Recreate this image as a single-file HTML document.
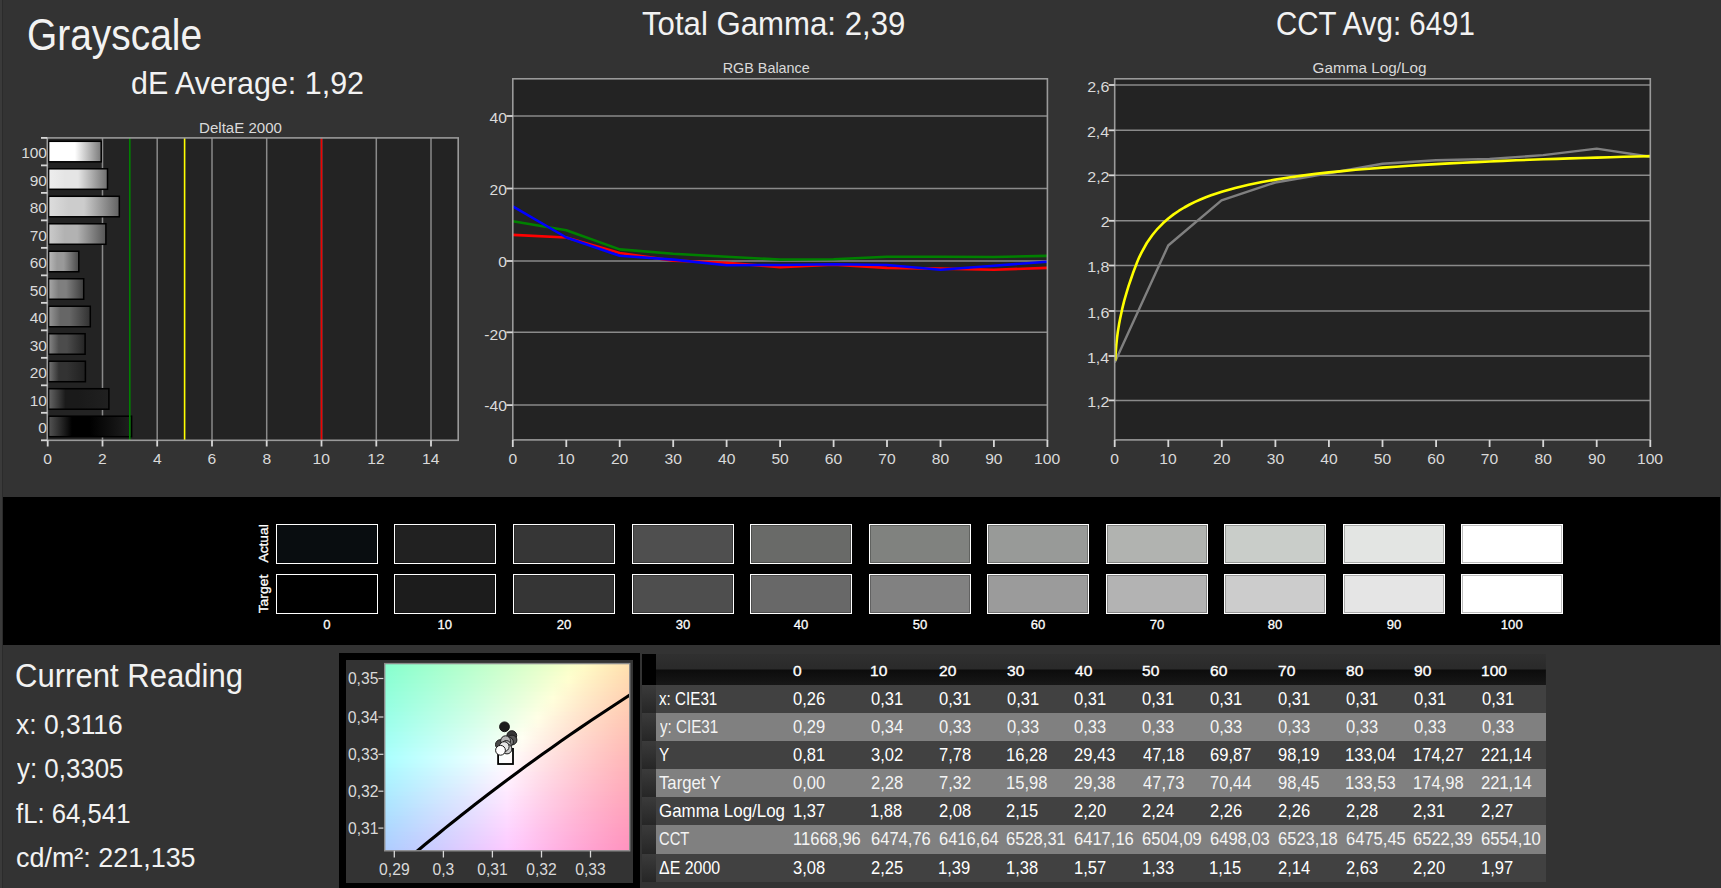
<!DOCTYPE html>
<html lang="en">
<head>
<meta charset="utf-8">
<title>Grayscale</title>
<style>
html,body{margin:0;padding:0;}
body{width:1721px;height:888px;overflow:hidden;background:#333333;position:relative;font-family:'Liberation Sans',sans-serif;color:#f2f2f2;}
svg{position:absolute;left:0;top:0;overflow:visible;}
svg text{font-family:'Liberation Sans',sans-serif;}
.edge{position:absolute;left:0;top:0;width:2px;height:888px;background:#3a3a3a;border-right:1px solid #2b2b2b;}
.h{position:absolute;white-space:nowrap;line-height:1;margin:0;font-weight:400;transform-origin:0 0;}
.band{position:absolute;left:2.5px;top:496.6px;width:1717px;height:148.4px;background:#000;}
.ciebox{position:absolute;left:339px;top:653px;width:301px;height:236px;background:#000;}
.cieinner{position:absolute;left:346px;top:660px;width:287px;height:222.5px;background:#333333;}
table.data{position:absolute;left:642px;top:654px;border-collapse:collapse;table-layout:fixed;width:904px;font-size:17.9px;color:#fff;}
table.data td,table.data th{padding:0;margin:0;text-align:left;font-weight:400;white-space:nowrap;overflow:visible;line-height:1;vertical-align:top;}
table.data tr{height:28px;}
table.data tr.hd{height:31px;background:linear-gradient(#303030 0%,#2a2a2a 49%,#0c0c0c 51%,#171717 100%);}
table.data tr.hd th{font-size:14.8px;-webkit-text-stroke:0.35px #fff;}
table.data tr.hd th.rh{background:#000;}
table.data tr.d{background:#414141;}
table.data tr.l{background:#808080;color:#f4f4f4;}
table.data td.rh{background:linear-gradient(#3b3b3b,#262626);}
table.data span{display:inline-block;transform-origin:0 0;position:relative;}
</style>
</head>
<body>
<div class="edge"></div>
<h1 class="h" style="left:26.56px;top:14.09px;font-size:43.60px;transform:scaleX(0.8919);color:#f2f2f2">Grayscale</h1>
<h2 class="h" style="left:130.78px;top:66.63px;font-size:31.98px;transform:scaleX(0.9522);color:#f2f2f2">dE Average: 1,92</h2>
<h2 class="h" style="left:641.68px;top:7.47px;font-size:32.99px;transform:scaleX(0.9451);color:#f2f2f2">Total Gamma: 2,39</h2>
<h2 class="h" style="left:1276.43px;top:7.47px;font-size:32.99px;transform:scaleX(0.8938);color:#f2f2f2">CCT Avg: 6491</h2>
<h2 class="h" style="left:15.45px;top:659.56px;font-size:32.41px;transform:scaleX(0.9587);color:#f2f2f2">Current Reading</h2>
<div class="h" style="left:16.24px;top:711.84px;font-size:26.89px;transform:scaleX(0.9833);color:#f2f2f2">x: 0,3116</div>
<div class="h" style="left:16.50px;top:755.84px;font-size:26.89px;transform:scaleX(0.9628);color:#f2f2f2">y: 0,3305</div>
<div class="h" style="left:16.44px;top:800.84px;font-size:26.89px;transform:scaleX(0.9573);color:#f2f2f2">fL: 64,541</div>
<div class="h" style="left:15.62px;top:844.84px;font-size:26.89px;transform:scaleX(1.0017);color:#f2f2f2">cd/m²: 221,135</div>
<svg width="1721" height="888" viewBox="0 0 1721 888">
<g id="deltae">
<rect x="47.3" y="137.9" width="410.9" height="302.4" fill="#232323"/>
<line x1="102.5" y1="137.9" x2="102.5" y2="440.3" stroke="#8a8a8a" stroke-width="1.5"/>
<line x1="157.2" y1="137.9" x2="157.2" y2="440.3" stroke="#8a8a8a" stroke-width="1.5"/>
<line x1="212.0" y1="137.9" x2="212.0" y2="440.3" stroke="#8a8a8a" stroke-width="1.5"/>
<line x1="266.7" y1="137.9" x2="266.7" y2="440.3" stroke="#8a8a8a" stroke-width="1.5"/>
<line x1="321.5" y1="137.9" x2="321.5" y2="440.3" stroke="#8a8a8a" stroke-width="1.5"/>
<line x1="376.3" y1="137.9" x2="376.3" y2="440.3" stroke="#8a8a8a" stroke-width="1.5"/>
<line x1="431.0" y1="137.9" x2="431.0" y2="440.3" stroke="#8a8a8a" stroke-width="1.5"/>
<defs>
<linearGradient id="b100"><stop offset="0" stop-color="#ffffff"/><stop offset="0.28" stop-color="#ffffff"/><stop offset="0.5" stop-color="#ffffff"/><stop offset="1" stop-color="#7a7a7a"/></linearGradient>
<linearGradient id="b90"><stop offset="0" stop-color="#eeeeee"/><stop offset="0.28" stop-color="#e5e5e5"/><stop offset="0.5" stop-color="#e5e5e5"/><stop offset="1" stop-color="#6e6e6e"/></linearGradient>
<linearGradient id="b80"><stop offset="0" stop-color="#dddddd"/><stop offset="0.28" stop-color="#cccccc"/><stop offset="0.5" stop-color="#cccccc"/><stop offset="1" stop-color="#626262"/></linearGradient>
<linearGradient id="b70"><stop offset="0" stop-color="#cbcbcb"/><stop offset="0.28" stop-color="#b2b2b2"/><stop offset="0.5" stop-color="#b2b2b2"/><stop offset="1" stop-color="#555555"/></linearGradient>
<linearGradient id="b60"><stop offset="0" stop-color="#bbbbbb"/><stop offset="0.28" stop-color="#999999"/><stop offset="0.5" stop-color="#999999"/><stop offset="1" stop-color="#494949"/></linearGradient>
<linearGradient id="b50"><stop offset="0" stop-color="#a9a9a9"/><stop offset="0.28" stop-color="#7f7f7f"/><stop offset="0.5" stop-color="#7f7f7f"/><stop offset="1" stop-color="#3d3d3d"/></linearGradient>
<linearGradient id="b40"><stop offset="0" stop-color="#989898"/><stop offset="0.28" stop-color="#666666"/><stop offset="0.5" stop-color="#666666"/><stop offset="1" stop-color="#313131"/></linearGradient>
<linearGradient id="b30"><stop offset="0" stop-color="#878787"/><stop offset="0.28" stop-color="#4c4c4c"/><stop offset="0.5" stop-color="#4c4c4c"/><stop offset="1" stop-color="#242424"/></linearGradient>
<linearGradient id="b20"><stop offset="0" stop-color="#767676"/><stop offset="0.28" stop-color="#333333"/><stop offset="0.5" stop-color="#333333"/><stop offset="1" stop-color="#202020"/></linearGradient>
<linearGradient id="b10"><stop offset="0" stop-color="#666666"/><stop offset="0.28" stop-color="#1a1a1a"/><stop offset="0.5" stop-color="#1a1a1a"/><stop offset="1" stop-color="#202020"/></linearGradient>
<linearGradient id="b0"><stop offset="0" stop-color="#545454"/><stop offset="0.28" stop-color="#000000"/><stop offset="0.5" stop-color="#000000"/><stop offset="1" stop-color="#202020"/></linearGradient>
</defs>
<rect x="48.6" y="141.30" width="52.6" height="20.5" fill="url(#b100)" stroke="#000" stroke-width="1.5"/>
<rect x="48.6" y="168.79" width="58.9" height="20.5" fill="url(#b90)" stroke="#000" stroke-width="1.5"/>
<rect x="48.6" y="196.28" width="70.7" height="20.5" fill="url(#b80)" stroke="#000" stroke-width="1.5"/>
<rect x="48.6" y="223.77" width="57.3" height="20.5" fill="url(#b70)" stroke="#000" stroke-width="1.5"/>
<rect x="48.6" y="251.26" width="30.2" height="20.5" fill="url(#b60)" stroke="#000" stroke-width="1.5"/>
<rect x="48.6" y="278.75" width="35.1" height="20.5" fill="url(#b50)" stroke="#000" stroke-width="1.5"/>
<rect x="48.6" y="306.25" width="41.7" height="20.5" fill="url(#b40)" stroke="#000" stroke-width="1.5"/>
<rect x="48.6" y="333.74" width="36.5" height="20.5" fill="url(#b30)" stroke="#000" stroke-width="1.5"/>
<rect x="48.6" y="361.23" width="36.8" height="20.5" fill="url(#b20)" stroke="#000" stroke-width="1.5"/>
<rect x="48.6" y="388.72" width="60.3" height="20.5" fill="url(#b10)" stroke="#000" stroke-width="1.5"/>
<rect x="48.6" y="416.21" width="83.0" height="20.5" fill="url(#b0)" stroke="#000" stroke-width="1.5"/>
<line x1="129.8" y1="137.9" x2="129.8" y2="440.3" stroke="#008000" stroke-width="1.6"/>
<line x1="184.6" y1="137.9" x2="184.6" y2="440.3" stroke="#ffff00" stroke-width="1.6"/>
<line x1="321.5" y1="137.9" x2="321.5" y2="440.3" stroke="#f00000" stroke-width="1.6"/>
<rect x="47.3" y="137.9" width="410.9" height="302.4" fill="none" stroke="#9a9a9a" stroke-width="1.6"/>
<line x1="41" y1="137.90" x2="47.3" y2="137.90" stroke="#d8d8d8" stroke-width="1.8"/>
<line x1="41" y1="165.39" x2="47.3" y2="165.39" stroke="#d8d8d8" stroke-width="1.8"/>
<line x1="41" y1="192.88" x2="47.3" y2="192.88" stroke="#d8d8d8" stroke-width="1.8"/>
<line x1="41" y1="220.37" x2="47.3" y2="220.37" stroke="#d8d8d8" stroke-width="1.8"/>
<line x1="41" y1="247.86" x2="47.3" y2="247.86" stroke="#d8d8d8" stroke-width="1.8"/>
<line x1="41" y1="275.35" x2="47.3" y2="275.35" stroke="#d8d8d8" stroke-width="1.8"/>
<line x1="41" y1="302.85" x2="47.3" y2="302.85" stroke="#d8d8d8" stroke-width="1.8"/>
<line x1="41" y1="330.34" x2="47.3" y2="330.34" stroke="#d8d8d8" stroke-width="1.8"/>
<line x1="41" y1="357.83" x2="47.3" y2="357.83" stroke="#d8d8d8" stroke-width="1.8"/>
<line x1="41" y1="385.32" x2="47.3" y2="385.32" stroke="#d8d8d8" stroke-width="1.8"/>
<line x1="41" y1="412.81" x2="47.3" y2="412.81" stroke="#d8d8d8" stroke-width="1.8"/>
<line x1="41" y1="440.30" x2="47.3" y2="440.30" stroke="#d8d8d8" stroke-width="1.8"/>
<line x1="47.7" y1="440.3" x2="47.7" y2="446.5" stroke="#d8d8d8" stroke-width="1.8"/>
<text transform="translate(43.36,463.80) scale(1.0450,1)" font-size="14.97" fill="#dadada">0</text>
<line x1="102.5" y1="440.3" x2="102.5" y2="446.5" stroke="#d8d8d8" stroke-width="1.8"/>
<text transform="translate(98.08,463.80) scale(1.0450,1)" font-size="14.97" fill="#dadada">2</text>
<line x1="157.2" y1="440.3" x2="157.2" y2="446.5" stroke="#d8d8d8" stroke-width="1.8"/>
<text transform="translate(152.92,463.80) scale(1.0450,1)" font-size="14.97" fill="#dadada">4</text>
<line x1="212.0" y1="440.3" x2="212.0" y2="446.5" stroke="#d8d8d8" stroke-width="1.8"/>
<text transform="translate(207.56,463.80) scale(1.0450,1)" font-size="14.97" fill="#dadada">6</text>
<line x1="266.7" y1="440.3" x2="266.7" y2="446.5" stroke="#d8d8d8" stroke-width="1.8"/>
<text transform="translate(262.40,463.80) scale(1.0450,1)" font-size="14.97" fill="#dadada">8</text>
<line x1="321.5" y1="440.3" x2="321.5" y2="446.5" stroke="#d8d8d8" stroke-width="1.8"/>
<text transform="translate(312.50,463.80) scale(1.0450,1)" font-size="14.97" fill="#dadada">10</text>
<line x1="376.3" y1="440.3" x2="376.3" y2="446.5" stroke="#d8d8d8" stroke-width="1.8"/>
<text transform="translate(367.34,463.80) scale(1.0450,1)" font-size="14.97" fill="#dadada">12</text>
<line x1="431.0" y1="440.3" x2="431.0" y2="446.5" stroke="#d8d8d8" stroke-width="1.8"/>
<text transform="translate(421.95,463.80) scale(1.0450,1)" font-size="14.97" fill="#dadada">14</text>
<text transform="translate(21.14,158.45) scale(1.0350,1)" font-size="14.97" fill="#dadada">100</text>
<text transform="translate(29.74,185.94) scale(1.0350,1)" font-size="14.97" fill="#dadada">90</text>
<text transform="translate(29.74,213.43) scale(1.0350,1)" font-size="14.97" fill="#dadada">80</text>
<text transform="translate(29.74,240.92) scale(1.0350,1)" font-size="14.97" fill="#dadada">70</text>
<text transform="translate(29.74,268.41) scale(1.0350,1)" font-size="14.97" fill="#dadada">60</text>
<text transform="translate(29.74,295.90) scale(1.0350,1)" font-size="14.97" fill="#dadada">50</text>
<text transform="translate(29.74,323.39) scale(1.0350,1)" font-size="14.97" fill="#dadada">40</text>
<text transform="translate(29.74,350.88) scale(1.0350,1)" font-size="14.97" fill="#dadada">30</text>
<text transform="translate(29.74,378.37) scale(1.0350,1)" font-size="14.97" fill="#dadada">20</text>
<text transform="translate(29.74,405.86) scale(1.0350,1)" font-size="14.97" fill="#dadada">10</text>
<text transform="translate(38.34,433.35) scale(1.0350,1)" font-size="14.97" fill="#dadada">0</text>
<text transform="translate(199.09,132.70) scale(1.0063,1)" font-size="14.97" fill="#dadada">DeltaE 2000</text>
</g>
<g id="rgb">
<rect x="512.8" y="78.8" width="534.6" height="361.1" fill="#232323"/>
<line x1="512.8" y1="116.0" x2="1047.4" y2="116.0" stroke="#8a8a8a" stroke-width="1.5"/>
<line x1="512.8" y1="188.5" x2="1047.4" y2="188.5" stroke="#8a8a8a" stroke-width="1.5"/>
<line x1="512.8" y1="261.0" x2="1047.4" y2="261.0" stroke="#8a8a8a" stroke-width="1.5"/>
<line x1="512.8" y1="332.3" x2="1047.4" y2="332.3" stroke="#8a8a8a" stroke-width="1.5"/>
<line x1="512.8" y1="405.1" x2="1047.4" y2="405.1" stroke="#8a8a8a" stroke-width="1.5"/>
<clipPath id="crgb"><rect x="512.8" y="78.8" width="534.6" height="361.1"/></clipPath>
<polyline points="512.8,234.9 566.3,237.5 619.7,253.0 673.2,260.6 726.6,262.8 780.1,267.2 833.6,264.6 887.0,267.9 940.5,268.6 993.9,269.7 1047.4,267.9" fill="none" stroke="#ff0000" stroke-width="2.6" stroke-linejoin="round" clip-path="url(#crgb)"/>
<polyline points="512.8,221.2 566.3,230.2 619.7,249.4 673.2,253.8 726.6,256.7 780.1,259.6 833.6,259.2 887.0,256.7 940.5,256.7 993.9,257.0 1047.4,255.9" fill="none" stroke="#008000" stroke-width="2.6" stroke-linejoin="round" clip-path="url(#crgb)"/>
<polyline points="512.8,206.3 566.3,237.5 619.7,255.8 673.2,259.6 726.6,265.2 780.1,265.0 833.6,264.3 887.0,265.0 940.5,269.7 993.9,265.7 1047.4,261.7" fill="none" stroke="#0000ff" stroke-width="2.6" stroke-linejoin="round" clip-path="url(#crgb)"/>
<rect x="512.8" y="78.8" width="534.6" height="361.1" fill="none" stroke="#9a9a9a" stroke-width="1.6"/>
<line x1="506.3" y1="116.0" x2="512.8" y2="116.0" stroke="#d8d8d8" stroke-width="1.8"/>
<text transform="translate(489.58,122.70) scale(1.0450,1)" font-size="14.97" fill="#dadada">40</text>
<line x1="506.3" y1="188.5" x2="512.8" y2="188.5" stroke="#d8d8d8" stroke-width="1.8"/>
<text transform="translate(489.58,195.00) scale(1.0450,1)" font-size="14.97" fill="#dadada">20</text>
<line x1="506.3" y1="261.0" x2="512.8" y2="261.0" stroke="#d8d8d8" stroke-width="1.8"/>
<text transform="translate(498.26,267.40) scale(1.0450,1)" font-size="14.97" fill="#dadada">0</text>
<line x1="506.3" y1="332.3" x2="512.8" y2="332.3" stroke="#d8d8d8" stroke-width="1.8"/>
<text transform="translate(484.34,340.10) scale(1.0450,1)" font-size="14.97" fill="#dadada">-20</text>
<line x1="506.3" y1="405.1" x2="512.8" y2="405.1" stroke="#d8d8d8" stroke-width="1.8"/>
<text transform="translate(484.34,410.60) scale(1.0450,1)" font-size="14.97" fill="#dadada">-40</text>
<line x1="512.8" y1="439.9" x2="512.8" y2="447" stroke="#d8d8d8" stroke-width="1.8"/>
<text transform="translate(508.46,463.80) scale(1.0450,1)" font-size="14.97" fill="#dadada">0</text>
<line x1="566.3" y1="439.9" x2="566.3" y2="447" stroke="#d8d8d8" stroke-width="1.8"/>
<text transform="translate(557.26,463.80) scale(1.0450,1)" font-size="14.97" fill="#dadada">10</text>
<line x1="619.7" y1="439.9" x2="619.7" y2="447" stroke="#d8d8d8" stroke-width="1.8"/>
<text transform="translate(610.92,463.80) scale(1.0450,1)" font-size="14.97" fill="#dadada">20</text>
<line x1="673.2" y1="439.9" x2="673.2" y2="447" stroke="#d8d8d8" stroke-width="1.8"/>
<text transform="translate(664.50,463.80) scale(1.0450,1)" font-size="14.97" fill="#dadada">30</text>
<line x1="726.6" y1="439.9" x2="726.6" y2="447" stroke="#d8d8d8" stroke-width="1.8"/>
<text transform="translate(718.07,463.80) scale(1.0450,1)" font-size="14.97" fill="#dadada">40</text>
<line x1="780.1" y1="439.9" x2="780.1" y2="447" stroke="#d8d8d8" stroke-width="1.8"/>
<text transform="translate(771.38,463.80) scale(1.0450,1)" font-size="14.97" fill="#dadada">50</text>
<line x1="833.6" y1="439.9" x2="833.6" y2="447" stroke="#d8d8d8" stroke-width="1.8"/>
<text transform="translate(824.76,463.80) scale(1.0450,1)" font-size="14.97" fill="#dadada">60</text>
<line x1="887.0" y1="439.9" x2="887.0" y2="447" stroke="#d8d8d8" stroke-width="1.8"/>
<text transform="translate(878.22,463.80) scale(1.0450,1)" font-size="14.97" fill="#dadada">70</text>
<line x1="940.5" y1="439.9" x2="940.5" y2="447" stroke="#d8d8d8" stroke-width="1.8"/>
<text transform="translate(931.76,463.80) scale(1.0450,1)" font-size="14.97" fill="#dadada">80</text>
<line x1="993.9" y1="439.9" x2="993.9" y2="447" stroke="#d8d8d8" stroke-width="1.8"/>
<text transform="translate(985.18,463.80) scale(1.0450,1)" font-size="14.97" fill="#dadada">90</text>
<line x1="1047.4" y1="439.9" x2="1047.4" y2="447" stroke="#d8d8d8" stroke-width="1.8"/>
<text transform="translate(1034.06,463.80) scale(1.0450,1)" font-size="14.97" fill="#dadada">100</text>
<text transform="translate(722.75,72.70) scale(0.9603,1)" font-size="14.97" fill="#dadada">RGB Balance</text>
</g>
<g id="gamma">
<rect x="1114.7" y="78.8" width="535.6" height="361.1" fill="#232323"/>
<line x1="1114.7" y1="85.0" x2="1650.3" y2="85.0" stroke="#8a8a8a" stroke-width="1.5"/>
<line x1="1114.7" y1="130.3" x2="1650.3" y2="130.3" stroke="#8a8a8a" stroke-width="1.5"/>
<line x1="1114.7" y1="175.3" x2="1650.3" y2="175.3" stroke="#8a8a8a" stroke-width="1.5"/>
<line x1="1114.7" y1="220.8" x2="1650.3" y2="220.8" stroke="#8a8a8a" stroke-width="1.5"/>
<line x1="1114.7" y1="265.5" x2="1650.3" y2="265.5" stroke="#8a8a8a" stroke-width="1.5"/>
<line x1="1114.7" y1="311.0" x2="1650.3" y2="311.0" stroke="#8a8a8a" stroke-width="1.5"/>
<line x1="1114.7" y1="356.0" x2="1650.3" y2="356.0" stroke="#8a8a8a" stroke-width="1.5"/>
<line x1="1114.7" y1="400.4" x2="1650.3" y2="400.4" stroke="#8a8a8a" stroke-width="1.5"/>
<clipPath id="cgam"><rect x="1113.7" y="78.8" width="537.6" height="361.1"/></clipPath>
<polyline points="1114.7,362.5 1168.2,245.5 1221.5,200.3 1275.3,182.5 1328.9,173.3 1382.5,163.7 1436.0,160.2 1489.6,159.0 1543.2,155.1 1596.7,148.6 1650.3,156.7" fill="none" stroke="#808080" stroke-width="2.4" stroke-linejoin="round" clip-path="url(#cgam)"/>
<polyline points="1115.2,360.7 1115.8,351.4 1116.3,344.9 1117.1,337.4 1117.9,331.4 1119.0,324.6 1120.1,318.8 1122.2,308.9 1124.3,300.4 1126.5,292.9 1128.6,285.9 1130.8,279.5 1132.9,273.3 1135.1,267.5 1137.2,262.0 1139.3,257.1 1141.5,252.6 1146.8,243.0 1152.2,235.3 1157.5,228.8 1162.9,223.3 1168.3,218.5 1173.6,214.4 1179.0,210.7 1184.3,207.5 1189.7,204.5 1195.0,201.9 1200.4,199.5 1205.8,197.3 1211.1,195.3 1216.5,193.4 1221.8,191.7 1235.2,187.9 1248.6,184.7 1262.0,182.0 1275.4,179.6 1288.8,177.5 1302.2,175.6 1315.6,173.9 1328.9,172.4 1342.3,171.1 1355.7,169.8 1369.1,168.7 1382.5,167.6 1395.9,166.7 1409.3,165.8 1422.7,164.9 1436.1,164.1 1449.5,163.4 1462.8,162.7 1476.2,162.1 1489.6,161.5 1503.0,160.9 1516.4,160.3 1529.8,159.8 1543.2,159.3 1556.6,158.9 1570.0,158.4 1583.4,158.0 1596.7,157.6 1610.1,157.2 1623.5,156.8 1636.9,156.5 1650.2,156.1" fill="none" stroke="#ffff00" stroke-width="2.6" stroke-linejoin="round" clip-path="url(#cgam)"/>
<rect x="1114.7" y="78.8" width="535.6" height="361.1" fill="none" stroke="#9a9a9a" stroke-width="1.6"/>
<line x1="1108.6" y1="85.0" x2="1114.7" y2="85.0" stroke="#d8d8d8" stroke-width="1.8"/>
<text transform="translate(1087.17,91.60) scale(1.0700,1)" font-size="14.97" fill="#dadada">2,6</text>
<line x1="1108.6" y1="130.3" x2="1114.7" y2="130.3" stroke="#d8d8d8" stroke-width="1.8"/>
<text transform="translate(1086.93,136.90) scale(1.0700,1)" font-size="14.97" fill="#dadada">2,4</text>
<line x1="1108.6" y1="175.3" x2="1114.7" y2="175.3" stroke="#d8d8d8" stroke-width="1.8"/>
<text transform="translate(1087.25,181.90) scale(1.0700,1)" font-size="14.97" fill="#dadada">2,2</text>
<line x1="1108.6" y1="220.8" x2="1114.7" y2="220.8" stroke="#d8d8d8" stroke-width="1.8"/>
<text transform="translate(1100.63,227.40) scale(1.0700,1)" font-size="14.97" fill="#dadada">2</text>
<line x1="1108.6" y1="265.5" x2="1114.7" y2="265.5" stroke="#d8d8d8" stroke-width="1.8"/>
<text transform="translate(1087.17,272.10) scale(1.0700,1)" font-size="14.97" fill="#dadada">1,8</text>
<line x1="1108.6" y1="311.0" x2="1114.7" y2="311.0" stroke="#d8d8d8" stroke-width="1.8"/>
<text transform="translate(1087.17,317.60) scale(1.0700,1)" font-size="14.97" fill="#dadada">1,6</text>
<line x1="1108.6" y1="356.0" x2="1114.7" y2="356.0" stroke="#d8d8d8" stroke-width="1.8"/>
<text transform="translate(1086.93,362.60) scale(1.0700,1)" font-size="14.97" fill="#dadada">1,4</text>
<line x1="1108.6" y1="400.4" x2="1114.7" y2="400.4" stroke="#d8d8d8" stroke-width="1.8"/>
<text transform="translate(1087.25,407.00) scale(1.0700,1)" font-size="14.97" fill="#dadada">1,2</text>
<line x1="1114.7" y1="439.9" x2="1114.7" y2="447" stroke="#d8d8d8" stroke-width="1.8"/>
<text transform="translate(1110.36,463.80) scale(1.0450,1)" font-size="14.97" fill="#dadada">0</text>
<line x1="1168.3" y1="439.9" x2="1168.3" y2="447" stroke="#d8d8d8" stroke-width="1.8"/>
<text transform="translate(1159.26,463.80) scale(1.0450,1)" font-size="14.97" fill="#dadada">10</text>
<line x1="1221.8" y1="439.9" x2="1221.8" y2="447" stroke="#d8d8d8" stroke-width="1.8"/>
<text transform="translate(1213.02,463.80) scale(1.0450,1)" font-size="14.97" fill="#dadada">20</text>
<line x1="1275.4" y1="439.9" x2="1275.4" y2="447" stroke="#d8d8d8" stroke-width="1.8"/>
<text transform="translate(1266.70,463.80) scale(1.0450,1)" font-size="14.97" fill="#dadada">30</text>
<line x1="1328.9" y1="439.9" x2="1328.9" y2="447" stroke="#d8d8d8" stroke-width="1.8"/>
<text transform="translate(1320.37,463.80) scale(1.0450,1)" font-size="14.97" fill="#dadada">40</text>
<line x1="1382.5" y1="439.9" x2="1382.5" y2="447" stroke="#d8d8d8" stroke-width="1.8"/>
<text transform="translate(1373.78,463.80) scale(1.0450,1)" font-size="14.97" fill="#dadada">50</text>
<line x1="1436.1" y1="439.9" x2="1436.1" y2="447" stroke="#d8d8d8" stroke-width="1.8"/>
<text transform="translate(1427.26,463.80) scale(1.0450,1)" font-size="14.97" fill="#dadada">60</text>
<line x1="1489.6" y1="439.9" x2="1489.6" y2="447" stroke="#d8d8d8" stroke-width="1.8"/>
<text transform="translate(1480.82,463.80) scale(1.0450,1)" font-size="14.97" fill="#dadada">70</text>
<line x1="1543.2" y1="439.9" x2="1543.2" y2="447" stroke="#d8d8d8" stroke-width="1.8"/>
<text transform="translate(1534.46,463.80) scale(1.0450,1)" font-size="14.97" fill="#dadada">80</text>
<line x1="1596.7" y1="439.9" x2="1596.7" y2="447" stroke="#d8d8d8" stroke-width="1.8"/>
<text transform="translate(1587.98,463.80) scale(1.0450,1)" font-size="14.97" fill="#dadada">90</text>
<line x1="1650.3" y1="439.9" x2="1650.3" y2="447" stroke="#d8d8d8" stroke-width="1.8"/>
<text transform="translate(1636.96,463.80) scale(1.0450,1)" font-size="14.97" fill="#dadada">100</text>
<text transform="translate(1312.53,72.70) scale(1.0229,1)" font-size="14.97" fill="#dadada">Gamma Log/Log</text>
</g>
</svg>
<div class="band"></div>
<svg width="1721" height="888" viewBox="0 0 1721 888">
<rect x="276" y="524" width="102" height="40" fill="#fff"/><rect x="277" y="525" width="100" height="38" fill="#070a0c"/><rect x="278" y="526" width="98" height="36" fill="#090d10"/>
<rect x="276" y="574" width="102" height="40" fill="#fff"/><rect x="277" y="575" width="100" height="38" fill="#000000"/><rect x="278" y="576" width="98" height="36" fill="#000000"/>
<text transform="translate(323.37,628.90) scale(1.0000,1)" font-size="13.08" fill="#fff" stroke="#fff" stroke-width="0.3">0</text>
<rect x="394" y="524" width="102" height="40" fill="#fff"/><rect x="395" y="525" width="100" height="38" fill="#191919"/><rect x="396" y="526" width="98" height="36" fill="#212121"/>
<rect x="394" y="574" width="102" height="40" fill="#fff"/><rect x="395" y="575" width="100" height="38" fill="#151515"/><rect x="396" y="576" width="98" height="36" fill="#1c1c1c"/>
<text transform="translate(437.48,628.90) scale(1.0000,1)" font-size="13.08" fill="#fff" stroke="#fff" stroke-width="0.3">10</text>
<rect x="513" y="524" width="102" height="40" fill="#fff"/><rect x="514" y="525" width="100" height="38" fill="#282828"/><rect x="515" y="526" width="98" height="36" fill="#363636"/>
<rect x="513" y="574" width="102" height="40" fill="#fff"/><rect x="514" y="575" width="100" height="38" fill="#282828"/><rect x="515" y="576" width="98" height="36" fill="#353535"/>
<text transform="translate(556.64,628.90) scale(1.0000,1)" font-size="13.08" fill="#fff" stroke="#fff" stroke-width="0.3">20</text>
<rect x="632" y="524" width="102" height="40" fill="#fff"/><rect x="633" y="525" width="100" height="38" fill="#3b3b3b"/><rect x="634" y="526" width="98" height="36" fill="#4f4f4f"/>
<rect x="632" y="574" width="102" height="40" fill="#fff"/><rect x="633" y="575" width="100" height="38" fill="#3a3a3a"/><rect x="634" y="576" width="98" height="36" fill="#4e4e4e"/>
<text transform="translate(675.74,628.90) scale(1.0000,1)" font-size="13.08" fill="#fff" stroke="#fff" stroke-width="0.3">30</text>
<rect x="750" y="524" width="102" height="40" fill="#fff"/><rect x="751" y="525" width="100" height="38" fill="#4f504e"/><rect x="752" y="526" width="98" height="36" fill="#696a68"/>
<rect x="750" y="574" width="102" height="40" fill="#fff"/><rect x="751" y="575" width="100" height="38" fill="#4e4e4e"/><rect x="752" y="576" width="98" height="36" fill="#686868"/>
<text transform="translate(793.84,628.90) scale(1.0000,1)" font-size="13.08" fill="#fff" stroke="#fff" stroke-width="0.3">40</text>
<rect x="869" y="524" width="102" height="40" fill="#fff"/><rect x="870" y="525" width="100" height="38" fill="#60625f"/><rect x="871" y="526" width="98" height="36" fill="#80827f"/>
<rect x="869" y="574" width="102" height="40" fill="#fff"/><rect x="870" y="575" width="100" height="38" fill="#616161"/><rect x="871" y="576" width="98" height="36" fill="#818181"/>
<text transform="translate(912.71,628.90) scale(1.0000,1)" font-size="13.08" fill="#fff" stroke="#fff" stroke-width="0.3">50</text>
<rect x="987" y="524" width="102" height="40" fill="#fff"/><rect x="988" y="525" width="100" height="38" fill="#727472"/><rect x="989" y="526" width="98" height="36" fill="#989a98"/>
<rect x="987" y="574" width="102" height="40" fill="#fff"/><rect x="988" y="575" width="100" height="38" fill="#747474"/><rect x="989" y="576" width="98" height="36" fill="#9b9b9b"/>
<text transform="translate(1030.64,628.90) scale(1.0000,1)" font-size="13.08" fill="#fff" stroke="#fff" stroke-width="0.3">60</text>
<rect x="1106" y="524" width="102" height="40" fill="#fff"/><rect x="1107" y="525" width="100" height="38" fill="#858684"/><rect x="1108" y="526" width="98" height="36" fill="#b1b3b0"/>
<rect x="1106" y="574" width="102" height="40" fill="#fff"/><rect x="1107" y="575" width="100" height="38" fill="#868686"/><rect x="1108" y="576" width="98" height="36" fill="#b3b3b3"/>
<text transform="translate(1149.64,628.90) scale(1.0000,1)" font-size="13.08" fill="#fff" stroke="#fff" stroke-width="0.3">70</text>
<rect x="1224" y="524" width="102" height="40" fill="#fff"/><rect x="1225" y="525" width="100" height="38" fill="#979a97"/><rect x="1226" y="526" width="98" height="36" fill="#c9cdc9"/>
<rect x="1224" y="574" width="102" height="40" fill="#fff"/><rect x="1225" y="575" width="100" height="38" fill="#999999"/><rect x="1226" y="576" width="98" height="36" fill="#cccccc"/>
<text transform="translate(1267.71,628.90) scale(1.0000,1)" font-size="13.08" fill="#fff" stroke="#fff" stroke-width="0.3">80</text>
<rect x="1343" y="524" width="102" height="40" fill="#fff"/><rect x="1344" y="525" width="100" height="38" fill="#aaacaa"/><rect x="1345" y="526" width="98" height="36" fill="#e3e5e3"/>
<rect x="1343" y="574" width="102" height="40" fill="#fff"/><rect x="1344" y="575" width="100" height="38" fill="#acacac"/><rect x="1345" y="576" width="98" height="36" fill="#e5e5e5"/>
<text transform="translate(1386.67,628.90) scale(1.0000,1)" font-size="13.08" fill="#fff" stroke="#fff" stroke-width="0.3">90</text>
<rect x="1461" y="524" width="102" height="40" fill="#fff"/><rect x="1462" y="525" width="100" height="38" fill="#bfbfbf"/><rect x="1463" y="526" width="98" height="36" fill="#ffffff"/>
<rect x="1461" y="574" width="102" height="40" fill="#fff"/><rect x="1462" y="575" width="100" height="38" fill="#bfbfbf"/><rect x="1463" y="576" width="98" height="36" fill="#ffffff"/>
<text transform="translate(1500.85,628.90) scale(1.0000,1)" font-size="13.08" fill="#fff" stroke="#fff" stroke-width="0.3">100</text>
<text transform="translate(268.30,543.80) rotate(-90) translate(-18.70,0) scale(1.0191,1)" font-size="13.52" fill="#fff" stroke="#fff" stroke-width="0.3">Actual</text>
<text transform="translate(268.30,593.90) rotate(-90) translate(-19.43,0) scale(1.0284,1)" font-size="13.52" fill="#fff" stroke="#fff" stroke-width="0.3">Target</text>
</svg>
<div class="ciebox"></div><div class="cieinner"></div>
<svg width="1721" height="888" viewBox="0 0 1721 888">
<defs>
<linearGradient id="c0"><stop offset="0.0000" stop-color="#87ffce"/><stop offset="0.0625" stop-color="#8fffce"/><stop offset="0.1250" stop-color="#98ffcd"/><stop offset="0.1875" stop-color="#a1ffcd"/><stop offset="0.2500" stop-color="#aaffcc"/><stop offset="0.3125" stop-color="#b3ffcc"/><stop offset="0.3750" stop-color="#bcffcc"/><stop offset="0.4375" stop-color="#c6ffcb"/><stop offset="0.5000" stop-color="#cfffcb"/><stop offset="0.5625" stop-color="#d9ffca"/><stop offset="0.6250" stop-color="#e3ffca"/><stop offset="0.6875" stop-color="#edffc9"/><stop offset="0.7500" stop-color="#f8ffc9"/><stop offset="0.8125" stop-color="#fffcc6"/><stop offset="0.8750" stop-color="#fff2be"/><stop offset="0.9375" stop-color="#ffe9b6"/><stop offset="1.0000" stop-color="#ffe0af"/></linearGradient>
<linearGradient id="c1"><stop offset="0.0000" stop-color="#88ffd0"/><stop offset="0.0625" stop-color="#91ffcf"/><stop offset="0.1250" stop-color="#9affcf"/><stop offset="0.1875" stop-color="#a2ffcf"/><stop offset="0.2500" stop-color="#acffce"/><stop offset="0.3125" stop-color="#b5ffce"/><stop offset="0.3750" stop-color="#beffce"/><stop offset="0.4375" stop-color="#c8ffcd"/><stop offset="0.5000" stop-color="#d1ffcd"/><stop offset="0.5625" stop-color="#dbffcc"/><stop offset="0.6250" stop-color="#e5ffcc"/><stop offset="0.6875" stop-color="#efffcb"/><stop offset="0.7500" stop-color="#faffcb"/><stop offset="0.8125" stop-color="#fffac6"/><stop offset="0.8750" stop-color="#fff0be"/><stop offset="0.9375" stop-color="#ffe7b6"/><stop offset="1.0000" stop-color="#ffdeaf"/></linearGradient>
<linearGradient id="c2"><stop offset="0.0000" stop-color="#8affd2"/><stop offset="0.0625" stop-color="#92ffd1"/><stop offset="0.1250" stop-color="#9bffd1"/><stop offset="0.1875" stop-color="#a4ffd1"/><stop offset="0.2500" stop-color="#adffd0"/><stop offset="0.3125" stop-color="#b6ffd0"/><stop offset="0.3750" stop-color="#c0ffd0"/><stop offset="0.4375" stop-color="#c9ffcf"/><stop offset="0.5000" stop-color="#d3ffcf"/><stop offset="0.5625" stop-color="#ddffce"/><stop offset="0.6250" stop-color="#e7ffce"/><stop offset="0.6875" stop-color="#f1ffce"/><stop offset="0.7500" stop-color="#fcffcd"/><stop offset="0.8125" stop-color="#fff8c7"/><stop offset="0.8750" stop-color="#ffeebf"/><stop offset="0.9375" stop-color="#ffe5b7"/><stop offset="1.0000" stop-color="#ffdcaf"/></linearGradient>
<linearGradient id="c3"><stop offset="0.0000" stop-color="#8bffd4"/><stop offset="0.0625" stop-color="#94ffd3"/><stop offset="0.1250" stop-color="#9dffd3"/><stop offset="0.1875" stop-color="#a6ffd3"/><stop offset="0.2500" stop-color="#afffd2"/><stop offset="0.3125" stop-color="#b8ffd2"/><stop offset="0.3750" stop-color="#c2ffd2"/><stop offset="0.4375" stop-color="#cbffd1"/><stop offset="0.5000" stop-color="#d5ffd1"/><stop offset="0.5625" stop-color="#dfffd0"/><stop offset="0.6250" stop-color="#e9ffd0"/><stop offset="0.6875" stop-color="#f4ffd0"/><stop offset="0.7500" stop-color="#feffcf"/><stop offset="0.8125" stop-color="#fff6c7"/><stop offset="0.8750" stop-color="#ffecbf"/><stop offset="0.9375" stop-color="#ffe3b7"/><stop offset="1.0000" stop-color="#ffdab0"/></linearGradient>
<linearGradient id="c4"><stop offset="0.0000" stop-color="#8cffd6"/><stop offset="0.0625" stop-color="#95ffd5"/><stop offset="0.1250" stop-color="#9effd5"/><stop offset="0.1875" stop-color="#a7ffd5"/><stop offset="0.2500" stop-color="#b0ffd4"/><stop offset="0.3125" stop-color="#baffd4"/><stop offset="0.3750" stop-color="#c3ffd4"/><stop offset="0.4375" stop-color="#cdffd3"/><stop offset="0.5000" stop-color="#d7ffd3"/><stop offset="0.5625" stop-color="#e1ffd2"/><stop offset="0.6250" stop-color="#ebffd2"/><stop offset="0.6875" stop-color="#f6ffd2"/><stop offset="0.7500" stop-color="#fffed0"/><stop offset="0.8125" stop-color="#fff3c7"/><stop offset="0.8750" stop-color="#ffeabf"/><stop offset="0.9375" stop-color="#ffe1b7"/><stop offset="1.0000" stop-color="#ffd8b0"/></linearGradient>
<linearGradient id="c5"><stop offset="0.0000" stop-color="#8effd7"/><stop offset="0.0625" stop-color="#97ffd7"/><stop offset="0.1250" stop-color="#a0ffd7"/><stop offset="0.1875" stop-color="#a9ffd7"/><stop offset="0.2500" stop-color="#b2ffd6"/><stop offset="0.3125" stop-color="#bcffd6"/><stop offset="0.3750" stop-color="#c5ffd6"/><stop offset="0.4375" stop-color="#cfffd5"/><stop offset="0.5000" stop-color="#d9ffd5"/><stop offset="0.5625" stop-color="#e3ffd5"/><stop offset="0.6250" stop-color="#edffd4"/><stop offset="0.6875" stop-color="#f8ffd4"/><stop offset="0.7500" stop-color="#fffbd1"/><stop offset="0.8125" stop-color="#fff1c8"/><stop offset="0.8750" stop-color="#ffe8c0"/><stop offset="0.9375" stop-color="#ffdfb8"/><stop offset="1.0000" stop-color="#ffd6b1"/></linearGradient>
<linearGradient id="c6"><stop offset="0.0000" stop-color="#8fffd9"/><stop offset="0.0625" stop-color="#98ffd9"/><stop offset="0.1250" stop-color="#a1ffd9"/><stop offset="0.1875" stop-color="#aaffd9"/><stop offset="0.2500" stop-color="#b4ffd8"/><stop offset="0.3125" stop-color="#bdffd8"/><stop offset="0.3750" stop-color="#c7ffd8"/><stop offset="0.4375" stop-color="#d1ffd7"/><stop offset="0.5000" stop-color="#dbffd7"/><stop offset="0.5625" stop-color="#e5ffd7"/><stop offset="0.6250" stop-color="#efffd6"/><stop offset="0.6875" stop-color="#faffd6"/><stop offset="0.7500" stop-color="#fff9d1"/><stop offset="0.8125" stop-color="#ffefc8"/><stop offset="0.8750" stop-color="#ffe6c0"/><stop offset="0.9375" stop-color="#ffddb8"/><stop offset="1.0000" stop-color="#ffd5b1"/></linearGradient>
<linearGradient id="c7"><stop offset="0.0000" stop-color="#91ffdb"/><stop offset="0.0625" stop-color="#9affdb"/><stop offset="0.1250" stop-color="#a3ffdb"/><stop offset="0.1875" stop-color="#acffdb"/><stop offset="0.2500" stop-color="#b5ffda"/><stop offset="0.3125" stop-color="#bfffda"/><stop offset="0.3750" stop-color="#c9ffda"/><stop offset="0.4375" stop-color="#d3ffd9"/><stop offset="0.5000" stop-color="#ddffd9"/><stop offset="0.5625" stop-color="#e7ffd9"/><stop offset="0.6250" stop-color="#f2ffd9"/><stop offset="0.6875" stop-color="#fcffd8"/><stop offset="0.7500" stop-color="#fff7d1"/><stop offset="0.8125" stop-color="#ffedc8"/><stop offset="0.8750" stop-color="#ffe4c0"/><stop offset="0.9375" stop-color="#ffdbb9"/><stop offset="1.0000" stop-color="#ffd3b1"/></linearGradient>
<linearGradient id="c8"><stop offset="0.0000" stop-color="#92ffdd"/><stop offset="0.0625" stop-color="#9bffdd"/><stop offset="0.1250" stop-color="#a4ffdd"/><stop offset="0.1875" stop-color="#aeffdd"/><stop offset="0.2500" stop-color="#b7ffdc"/><stop offset="0.3125" stop-color="#c1ffdc"/><stop offset="0.3750" stop-color="#cbffdc"/><stop offset="0.4375" stop-color="#d5ffdc"/><stop offset="0.5000" stop-color="#dfffdb"/><stop offset="0.5625" stop-color="#e9ffdb"/><stop offset="0.6250" stop-color="#f4ffdb"/><stop offset="0.6875" stop-color="#ffffda"/><stop offset="0.7500" stop-color="#fff5d2"/><stop offset="0.8125" stop-color="#ffebc9"/><stop offset="0.8750" stop-color="#ffe2c1"/><stop offset="0.9375" stop-color="#ffd9b9"/><stop offset="1.0000" stop-color="#ffd1b2"/></linearGradient>
<linearGradient id="c9"><stop offset="0.0000" stop-color="#94ffe0"/><stop offset="0.0625" stop-color="#9dffdf"/><stop offset="0.1250" stop-color="#a6ffdf"/><stop offset="0.1875" stop-color="#afffdf"/><stop offset="0.2500" stop-color="#b9ffdf"/><stop offset="0.3125" stop-color="#c3ffde"/><stop offset="0.3750" stop-color="#cdffde"/><stop offset="0.4375" stop-color="#d7ffde"/><stop offset="0.5000" stop-color="#e1ffdd"/><stop offset="0.5625" stop-color="#ebffdd"/><stop offset="0.6250" stop-color="#f6ffdd"/><stop offset="0.6875" stop-color="#fffddb"/><stop offset="0.7500" stop-color="#fff3d2"/><stop offset="0.8125" stop-color="#ffe9c9"/><stop offset="0.8750" stop-color="#ffe0c1"/><stop offset="0.9375" stop-color="#ffd7b9"/><stop offset="1.0000" stop-color="#ffcfb2"/></linearGradient>
<linearGradient id="c10"><stop offset="0.0000" stop-color="#95ffe2"/><stop offset="0.0625" stop-color="#9effe1"/><stop offset="0.1250" stop-color="#a8ffe1"/><stop offset="0.1875" stop-color="#b1ffe1"/><stop offset="0.2500" stop-color="#bbffe1"/><stop offset="0.3125" stop-color="#c5ffe0"/><stop offset="0.3750" stop-color="#ceffe0"/><stop offset="0.4375" stop-color="#d9ffe0"/><stop offset="0.5000" stop-color="#e3ffe0"/><stop offset="0.5625" stop-color="#edffdf"/><stop offset="0.6250" stop-color="#f8ffdf"/><stop offset="0.6875" stop-color="#fffbdb"/><stop offset="0.7500" stop-color="#fff1d2"/><stop offset="0.8125" stop-color="#ffe7c9"/><stop offset="0.8750" stop-color="#ffdec1"/><stop offset="0.9375" stop-color="#ffd5ba"/><stop offset="1.0000" stop-color="#ffcdb2"/></linearGradient>
<linearGradient id="c11"><stop offset="0.0000" stop-color="#97ffe4"/><stop offset="0.0625" stop-color="#a0ffe3"/><stop offset="0.1250" stop-color="#a9ffe3"/><stop offset="0.1875" stop-color="#b3ffe3"/><stop offset="0.2500" stop-color="#bcffe3"/><stop offset="0.3125" stop-color="#c6ffe3"/><stop offset="0.3750" stop-color="#d0ffe2"/><stop offset="0.4375" stop-color="#dbffe2"/><stop offset="0.5000" stop-color="#e5ffe2"/><stop offset="0.5625" stop-color="#f0ffe2"/><stop offset="0.6250" stop-color="#faffe1"/><stop offset="0.6875" stop-color="#fff9dc"/><stop offset="0.7500" stop-color="#ffefd2"/><stop offset="0.8125" stop-color="#ffe5ca"/><stop offset="0.8750" stop-color="#ffdcc2"/><stop offset="0.9375" stop-color="#ffd4ba"/><stop offset="1.0000" stop-color="#ffccb3"/></linearGradient>
<linearGradient id="c12"><stop offset="0.0000" stop-color="#98ffe6"/><stop offset="0.0625" stop-color="#a1ffe6"/><stop offset="0.1250" stop-color="#abffe5"/><stop offset="0.1875" stop-color="#b5ffe5"/><stop offset="0.2500" stop-color="#beffe5"/><stop offset="0.3125" stop-color="#c8ffe5"/><stop offset="0.3750" stop-color="#d2ffe5"/><stop offset="0.4375" stop-color="#ddffe4"/><stop offset="0.5000" stop-color="#e7ffe4"/><stop offset="0.5625" stop-color="#f2ffe4"/><stop offset="0.6250" stop-color="#fdffe4"/><stop offset="0.6875" stop-color="#fff7dc"/><stop offset="0.7500" stop-color="#ffecd3"/><stop offset="0.8125" stop-color="#ffe3ca"/><stop offset="0.8750" stop-color="#ffdac2"/><stop offset="0.9375" stop-color="#ffd2ba"/><stop offset="1.0000" stop-color="#ffcab3"/></linearGradient>
<linearGradient id="c13"><stop offset="0.0000" stop-color="#9affe8"/><stop offset="0.0625" stop-color="#a3ffe8"/><stop offset="0.1250" stop-color="#adffe8"/><stop offset="0.1875" stop-color="#b6ffe7"/><stop offset="0.2500" stop-color="#c0ffe7"/><stop offset="0.3125" stop-color="#caffe7"/><stop offset="0.3750" stop-color="#d4ffe7"/><stop offset="0.4375" stop-color="#dfffe7"/><stop offset="0.5000" stop-color="#e9ffe6"/><stop offset="0.5625" stop-color="#f4ffe6"/><stop offset="0.6250" stop-color="#ffffe6"/><stop offset="0.6875" stop-color="#fff4dc"/><stop offset="0.7500" stop-color="#ffead3"/><stop offset="0.8125" stop-color="#ffe1ca"/><stop offset="0.8750" stop-color="#ffd8c2"/><stop offset="0.9375" stop-color="#ffd0bb"/><stop offset="1.0000" stop-color="#ffc8b3"/></linearGradient>
<linearGradient id="c14"><stop offset="0.0000" stop-color="#9bffea"/><stop offset="0.0625" stop-color="#a5ffea"/><stop offset="0.1250" stop-color="#aeffea"/><stop offset="0.1875" stop-color="#b8ffea"/><stop offset="0.2500" stop-color="#c2ffe9"/><stop offset="0.3125" stop-color="#ccffe9"/><stop offset="0.3750" stop-color="#d6ffe9"/><stop offset="0.4375" stop-color="#e1ffe9"/><stop offset="0.5000" stop-color="#ebffe9"/><stop offset="0.5625" stop-color="#f6ffe9"/><stop offset="0.6250" stop-color="#fffde6"/><stop offset="0.6875" stop-color="#fff2dd"/><stop offset="0.7500" stop-color="#ffe8d3"/><stop offset="0.8125" stop-color="#ffdfcb"/><stop offset="0.8750" stop-color="#ffd6c3"/><stop offset="0.9375" stop-color="#ffcebb"/><stop offset="1.0000" stop-color="#ffc6b4"/></linearGradient>
<linearGradient id="c15"><stop offset="0.0000" stop-color="#9dffec"/><stop offset="0.0625" stop-color="#a6ffec"/><stop offset="0.1250" stop-color="#b0ffec"/><stop offset="0.1875" stop-color="#baffec"/><stop offset="0.2500" stop-color="#c4ffec"/><stop offset="0.3125" stop-color="#ceffeb"/><stop offset="0.3750" stop-color="#d8ffeb"/><stop offset="0.4375" stop-color="#e3ffeb"/><stop offset="0.5000" stop-color="#eeffeb"/><stop offset="0.5625" stop-color="#f8ffeb"/><stop offset="0.6250" stop-color="#fffbe7"/><stop offset="0.6875" stop-color="#fff0dd"/><stop offset="0.7500" stop-color="#ffe6d4"/><stop offset="0.8125" stop-color="#ffddcb"/><stop offset="0.8750" stop-color="#ffd4c3"/><stop offset="0.9375" stop-color="#ffccbb"/><stop offset="1.0000" stop-color="#ffc5b4"/></linearGradient>
<linearGradient id="c16"><stop offset="0.0000" stop-color="#9fffee"/><stop offset="0.0625" stop-color="#a8ffee"/><stop offset="0.1250" stop-color="#b2ffee"/><stop offset="0.1875" stop-color="#bcffee"/><stop offset="0.2500" stop-color="#c6ffee"/><stop offset="0.3125" stop-color="#d0ffee"/><stop offset="0.3750" stop-color="#daffee"/><stop offset="0.4375" stop-color="#e5ffee"/><stop offset="0.5000" stop-color="#f0ffed"/><stop offset="0.5625" stop-color="#fbffed"/><stop offset="0.6250" stop-color="#fff8e7"/><stop offset="0.6875" stop-color="#ffeedd"/><stop offset="0.7500" stop-color="#ffe4d4"/><stop offset="0.8125" stop-color="#ffdbcb"/><stop offset="0.8750" stop-color="#ffd3c3"/><stop offset="0.9375" stop-color="#ffcabc"/><stop offset="1.0000" stop-color="#ffc3b4"/></linearGradient>
<linearGradient id="c17"><stop offset="0.0000" stop-color="#a0fff1"/><stop offset="0.0625" stop-color="#aafff1"/><stop offset="0.1250" stop-color="#b4fff0"/><stop offset="0.1875" stop-color="#bdfff0"/><stop offset="0.2500" stop-color="#c8fff0"/><stop offset="0.3125" stop-color="#d2fff0"/><stop offset="0.3750" stop-color="#dcfff0"/><stop offset="0.4375" stop-color="#e7fff0"/><stop offset="0.5000" stop-color="#f2fff0"/><stop offset="0.5625" stop-color="#fdfff0"/><stop offset="0.6250" stop-color="#fff6e7"/><stop offset="0.6875" stop-color="#ffecdd"/><stop offset="0.7500" stop-color="#ffe2d4"/><stop offset="0.8125" stop-color="#ffd9cc"/><stop offset="0.8750" stop-color="#ffd1c4"/><stop offset="0.9375" stop-color="#ffc9bc"/><stop offset="1.0000" stop-color="#ffc1b5"/></linearGradient>
<linearGradient id="c18"><stop offset="0.0000" stop-color="#a2fff3"/><stop offset="0.0625" stop-color="#abfff3"/><stop offset="0.1250" stop-color="#b5fff3"/><stop offset="0.1875" stop-color="#bffff3"/><stop offset="0.2500" stop-color="#c9fff3"/><stop offset="0.3125" stop-color="#d4fff2"/><stop offset="0.3750" stop-color="#defff2"/><stop offset="0.4375" stop-color="#e9fff2"/><stop offset="0.5000" stop-color="#f4fff2"/><stop offset="0.5625" stop-color="#fffff2"/><stop offset="0.6250" stop-color="#fff4e7"/><stop offset="0.6875" stop-color="#ffeade"/><stop offset="0.7500" stop-color="#ffe0d4"/><stop offset="0.8125" stop-color="#ffd7cc"/><stop offset="0.8750" stop-color="#ffcfc4"/><stop offset="0.9375" stop-color="#ffc7bc"/><stop offset="1.0000" stop-color="#ffbfb5"/></linearGradient>
<linearGradient id="c19"><stop offset="0.0000" stop-color="#a3fff5"/><stop offset="0.0625" stop-color="#adfff5"/><stop offset="0.1250" stop-color="#b7fff5"/><stop offset="0.1875" stop-color="#c1fff5"/><stop offset="0.2500" stop-color="#cbfff5"/><stop offset="0.3125" stop-color="#d6fff5"/><stop offset="0.3750" stop-color="#e1fff5"/><stop offset="0.4375" stop-color="#ebfff5"/><stop offset="0.5000" stop-color="#f6fff5"/><stop offset="0.5625" stop-color="#fffcf2"/><stop offset="0.6250" stop-color="#fff2e8"/><stop offset="0.6875" stop-color="#ffe8de"/><stop offset="0.7500" stop-color="#ffded5"/><stop offset="0.8125" stop-color="#ffd5cc"/><stop offset="0.8750" stop-color="#ffcdc4"/><stop offset="0.9375" stop-color="#ffc5bd"/><stop offset="1.0000" stop-color="#ffbeb5"/></linearGradient>
<linearGradient id="c20"><stop offset="0.0000" stop-color="#a5fff7"/><stop offset="0.0625" stop-color="#affff7"/><stop offset="0.1250" stop-color="#b9fff7"/><stop offset="0.1875" stop-color="#c3fff7"/><stop offset="0.2500" stop-color="#cdfff7"/><stop offset="0.3125" stop-color="#d8fff7"/><stop offset="0.3750" stop-color="#e3fff7"/><stop offset="0.4375" stop-color="#eefff7"/><stop offset="0.5000" stop-color="#f9fff7"/><stop offset="0.5625" stop-color="#fffaf2"/><stop offset="0.6250" stop-color="#ffefe8"/><stop offset="0.6875" stop-color="#ffe5de"/><stop offset="0.7500" stop-color="#ffdcd5"/><stop offset="0.8125" stop-color="#ffd3cd"/><stop offset="0.8750" stop-color="#ffcbc5"/><stop offset="0.9375" stop-color="#ffc3bd"/><stop offset="1.0000" stop-color="#ffbcb6"/></linearGradient>
<linearGradient id="c21"><stop offset="0.0000" stop-color="#a7fffa"/><stop offset="0.0625" stop-color="#b1fffa"/><stop offset="0.1250" stop-color="#bbfffa"/><stop offset="0.1875" stop-color="#c5fffa"/><stop offset="0.2500" stop-color="#cffffa"/><stop offset="0.3125" stop-color="#dafffa"/><stop offset="0.3750" stop-color="#e5fffa"/><stop offset="0.4375" stop-color="#f0fffa"/><stop offset="0.5000" stop-color="#fbfffa"/><stop offset="0.5625" stop-color="#fff8f2"/><stop offset="0.6250" stop-color="#ffede8"/><stop offset="0.6875" stop-color="#ffe3de"/><stop offset="0.7500" stop-color="#ffdad5"/><stop offset="0.8125" stop-color="#ffd1cd"/><stop offset="0.8750" stop-color="#ffc9c5"/><stop offset="0.9375" stop-color="#ffc2bd"/><stop offset="1.0000" stop-color="#ffbab6"/></linearGradient>
<linearGradient id="c22"><stop offset="0.0000" stop-color="#a9fffc"/><stop offset="0.0625" stop-color="#b2fffc"/><stop offset="0.1250" stop-color="#bdfffc"/><stop offset="0.1875" stop-color="#c7fffc"/><stop offset="0.2500" stop-color="#d1fffc"/><stop offset="0.3125" stop-color="#dcfffc"/><stop offset="0.3750" stop-color="#e7fffc"/><stop offset="0.4375" stop-color="#f2fffc"/><stop offset="0.5000" stop-color="#fdfffc"/><stop offset="0.5625" stop-color="#fff5f3"/><stop offset="0.6250" stop-color="#ffebe8"/><stop offset="0.6875" stop-color="#ffe1df"/><stop offset="0.7500" stop-color="#ffd8d6"/><stop offset="0.8125" stop-color="#ffd0cd"/><stop offset="0.8750" stop-color="#ffc7c5"/><stop offset="0.9375" stop-color="#ffc0be"/><stop offset="1.0000" stop-color="#ffb9b6"/></linearGradient>
<linearGradient id="c23"><stop offset="0.0000" stop-color="#aafffe"/><stop offset="0.0625" stop-color="#b4fffe"/><stop offset="0.1250" stop-color="#befffe"/><stop offset="0.1875" stop-color="#c9fffe"/><stop offset="0.2500" stop-color="#d3ffff"/><stop offset="0.3125" stop-color="#deffff"/><stop offset="0.3750" stop-color="#e9ffff"/><stop offset="0.4375" stop-color="#f4ffff"/><stop offset="0.5000" stop-color="#fffefe"/><stop offset="0.5625" stop-color="#fff3f3"/><stop offset="0.6250" stop-color="#ffe9e9"/><stop offset="0.6875" stop-color="#ffdfdf"/><stop offset="0.7500" stop-color="#ffd6d6"/><stop offset="0.8125" stop-color="#ffcecd"/><stop offset="0.8750" stop-color="#ffc6c5"/><stop offset="0.9375" stop-color="#ffbebe"/><stop offset="1.0000" stop-color="#ffb7b7"/></linearGradient>
<linearGradient id="c24"><stop offset="0.0000" stop-color="#abfdff"/><stop offset="0.0625" stop-color="#b5fdff"/><stop offset="0.1250" stop-color="#bffdff"/><stop offset="0.1875" stop-color="#c9fdff"/><stop offset="0.2500" stop-color="#d4fdff"/><stop offset="0.3125" stop-color="#dffdff"/><stop offset="0.3750" stop-color="#e9fdff"/><stop offset="0.4375" stop-color="#f5fdff"/><stop offset="0.5000" stop-color="#fffcfe"/><stop offset="0.5625" stop-color="#fff1f3"/><stop offset="0.6250" stop-color="#ffe7e9"/><stop offset="0.6875" stop-color="#ffdddf"/><stop offset="0.7500" stop-color="#ffd4d6"/><stop offset="0.8125" stop-color="#ffccce"/><stop offset="0.8750" stop-color="#ffc4c6"/><stop offset="0.9375" stop-color="#ffbcbe"/><stop offset="1.0000" stop-color="#ffb5b7"/></linearGradient>
<linearGradient id="c25"><stop offset="0.0000" stop-color="#abfbff"/><stop offset="0.0625" stop-color="#b5fbff"/><stop offset="0.1250" stop-color="#bffbff"/><stop offset="0.1875" stop-color="#c9fbff"/><stop offset="0.2500" stop-color="#d4fbff"/><stop offset="0.3125" stop-color="#defbff"/><stop offset="0.3750" stop-color="#e9faff"/><stop offset="0.4375" stop-color="#f4faff"/><stop offset="0.5000" stop-color="#fffafe"/><stop offset="0.5625" stop-color="#ffeff3"/><stop offset="0.6250" stop-color="#ffe5e9"/><stop offset="0.6875" stop-color="#ffdbdf"/><stop offset="0.7500" stop-color="#ffd2d6"/><stop offset="0.8125" stop-color="#ffcace"/><stop offset="0.8750" stop-color="#ffc2c6"/><stop offset="0.9375" stop-color="#ffbbbf"/><stop offset="1.0000" stop-color="#ffb4b7"/></linearGradient>
<linearGradient id="c26"><stop offset="0.0000" stop-color="#abf8ff"/><stop offset="0.0625" stop-color="#b5f8ff"/><stop offset="0.1250" stop-color="#bff8ff"/><stop offset="0.1875" stop-color="#c9f8ff"/><stop offset="0.2500" stop-color="#d4f8ff"/><stop offset="0.3125" stop-color="#def8ff"/><stop offset="0.3750" stop-color="#e9f8ff"/><stop offset="0.4375" stop-color="#f4f8ff"/><stop offset="0.5000" stop-color="#fff7fe"/><stop offset="0.5625" stop-color="#ffedf4"/><stop offset="0.6250" stop-color="#ffe3e9"/><stop offset="0.6875" stop-color="#ffd9e0"/><stop offset="0.7500" stop-color="#ffd0d7"/><stop offset="0.8125" stop-color="#ffc8ce"/><stop offset="0.8750" stop-color="#ffc0c6"/><stop offset="0.9375" stop-color="#ffb9bf"/><stop offset="1.0000" stop-color="#ffb2b8"/></linearGradient>
<linearGradient id="c27"><stop offset="0.0000" stop-color="#abf6ff"/><stop offset="0.0625" stop-color="#b5f6ff"/><stop offset="0.1250" stop-color="#bff6ff"/><stop offset="0.1875" stop-color="#c9f6ff"/><stop offset="0.2500" stop-color="#d4f6ff"/><stop offset="0.3125" stop-color="#def6ff"/><stop offset="0.3750" stop-color="#e9f6ff"/><stop offset="0.4375" stop-color="#f4f5ff"/><stop offset="0.5000" stop-color="#fff5ff"/><stop offset="0.5625" stop-color="#ffeaf4"/><stop offset="0.6250" stop-color="#ffe0ea"/><stop offset="0.6875" stop-color="#ffd7e0"/><stop offset="0.7500" stop-color="#ffced7"/><stop offset="0.8125" stop-color="#ffc6cf"/><stop offset="0.8750" stop-color="#ffbfc7"/><stop offset="0.9375" stop-color="#ffb7bf"/><stop offset="1.0000" stop-color="#ffb0b8"/></linearGradient>
<linearGradient id="c28"><stop offset="0.0000" stop-color="#abf4ff"/><stop offset="0.0625" stop-color="#b5f4ff"/><stop offset="0.1250" stop-color="#bff4ff"/><stop offset="0.1875" stop-color="#c9f3ff"/><stop offset="0.2500" stop-color="#d4f3ff"/><stop offset="0.3125" stop-color="#def3ff"/><stop offset="0.3750" stop-color="#e9f3ff"/><stop offset="0.4375" stop-color="#f4f3ff"/><stop offset="0.5000" stop-color="#fff3ff"/><stop offset="0.5625" stop-color="#ffe8f4"/><stop offset="0.6250" stop-color="#ffdeea"/><stop offset="0.6875" stop-color="#ffd5e0"/><stop offset="0.7500" stop-color="#ffcdd7"/><stop offset="0.8125" stop-color="#ffc4cf"/><stop offset="0.8750" stop-color="#ffbdc7"/><stop offset="0.9375" stop-color="#ffb6c0"/><stop offset="1.0000" stop-color="#ffafb8"/></linearGradient>
<linearGradient id="c29"><stop offset="0.0000" stop-color="#acf2ff"/><stop offset="0.0625" stop-color="#b5f1ff"/><stop offset="0.1250" stop-color="#bff1ff"/><stop offset="0.1875" stop-color="#c9f1ff"/><stop offset="0.2500" stop-color="#d4f1ff"/><stop offset="0.3125" stop-color="#def1ff"/><stop offset="0.3750" stop-color="#e9f1ff"/><stop offset="0.4375" stop-color="#f4f1ff"/><stop offset="0.5000" stop-color="#fff0ff"/><stop offset="0.5625" stop-color="#ffe6f4"/><stop offset="0.6250" stop-color="#ffdcea"/><stop offset="0.6875" stop-color="#ffd3e1"/><stop offset="0.7500" stop-color="#ffcbd8"/><stop offset="0.8125" stop-color="#ffc3cf"/><stop offset="0.8750" stop-color="#ffbbc7"/><stop offset="0.9375" stop-color="#ffb4c0"/><stop offset="1.0000" stop-color="#ffadb9"/></linearGradient>
<linearGradient id="c30"><stop offset="0.0000" stop-color="#acefff"/><stop offset="0.0625" stop-color="#b5efff"/><stop offset="0.1250" stop-color="#bfefff"/><stop offset="0.1875" stop-color="#c9efff"/><stop offset="0.2500" stop-color="#d4efff"/><stop offset="0.3125" stop-color="#deeeff"/><stop offset="0.3750" stop-color="#e9eeff"/><stop offset="0.4375" stop-color="#f4eeff"/><stop offset="0.5000" stop-color="#ffeeff"/><stop offset="0.5625" stop-color="#ffe4f4"/><stop offset="0.6250" stop-color="#ffdaea"/><stop offset="0.6875" stop-color="#ffd1e1"/><stop offset="0.7500" stop-color="#ffc9d8"/><stop offset="0.8125" stop-color="#ffc1cf"/><stop offset="0.8750" stop-color="#ffb9c8"/><stop offset="0.9375" stop-color="#ffb2c0"/><stop offset="1.0000" stop-color="#ffacb9"/></linearGradient>
<linearGradient id="c31"><stop offset="0.0000" stop-color="#acedff"/><stop offset="0.0625" stop-color="#b6edff"/><stop offset="0.1250" stop-color="#bfedff"/><stop offset="0.1875" stop-color="#caecff"/><stop offset="0.2500" stop-color="#d4ecff"/><stop offset="0.3125" stop-color="#deecff"/><stop offset="0.3750" stop-color="#e9ecff"/><stop offset="0.4375" stop-color="#f4ecff"/><stop offset="0.5000" stop-color="#ffebff"/><stop offset="0.5625" stop-color="#ffe2f5"/><stop offset="0.6250" stop-color="#ffd8ea"/><stop offset="0.6875" stop-color="#ffcfe1"/><stop offset="0.7500" stop-color="#ffc7d8"/><stop offset="0.8125" stop-color="#ffbfd0"/><stop offset="0.8750" stop-color="#ffb8c8"/><stop offset="0.9375" stop-color="#ffb1c0"/><stop offset="1.0000" stop-color="#ffaab9"/></linearGradient>
<linearGradient id="c32"><stop offset="0.0000" stop-color="#acebff"/><stop offset="0.0625" stop-color="#b6ebff"/><stop offset="0.1250" stop-color="#c0eaff"/><stop offset="0.1875" stop-color="#caeaff"/><stop offset="0.2500" stop-color="#d4eaff"/><stop offset="0.3125" stop-color="#deeaff"/><stop offset="0.3750" stop-color="#e9eaff"/><stop offset="0.4375" stop-color="#f4e9ff"/><stop offset="0.5000" stop-color="#fee9ff"/><stop offset="0.5625" stop-color="#ffe0f5"/><stop offset="0.6250" stop-color="#ffd6eb"/><stop offset="0.6875" stop-color="#ffcde1"/><stop offset="0.7500" stop-color="#ffc5d8"/><stop offset="0.8125" stop-color="#ffbdd0"/><stop offset="0.8750" stop-color="#ffb6c8"/><stop offset="0.9375" stop-color="#ffafc1"/><stop offset="1.0000" stop-color="#ffa8ba"/></linearGradient>
<linearGradient id="c33"><stop offset="0.0000" stop-color="#ace9ff"/><stop offset="0.0625" stop-color="#b6e8ff"/><stop offset="0.1250" stop-color="#c0e8ff"/><stop offset="0.1875" stop-color="#cae8ff"/><stop offset="0.2500" stop-color="#d4e8ff"/><stop offset="0.3125" stop-color="#dee7ff"/><stop offset="0.3750" stop-color="#e9e7ff"/><stop offset="0.4375" stop-color="#f3e7ff"/><stop offset="0.5000" stop-color="#fee7ff"/><stop offset="0.5625" stop-color="#ffddf5"/><stop offset="0.6250" stop-color="#ffd4eb"/><stop offset="0.6875" stop-color="#ffcbe2"/><stop offset="0.7500" stop-color="#ffc3d9"/><stop offset="0.8125" stop-color="#ffbbd0"/><stop offset="0.8750" stop-color="#ffb4c8"/><stop offset="0.9375" stop-color="#ffadc1"/><stop offset="1.0000" stop-color="#ffa7ba"/></linearGradient>
<linearGradient id="c34"><stop offset="0.0000" stop-color="#ace6ff"/><stop offset="0.0625" stop-color="#b6e6ff"/><stop offset="0.1250" stop-color="#c0e6ff"/><stop offset="0.1875" stop-color="#cae6ff"/><stop offset="0.2500" stop-color="#d4e5ff"/><stop offset="0.3125" stop-color="#dee5ff"/><stop offset="0.3750" stop-color="#e9e5ff"/><stop offset="0.4375" stop-color="#f3e5ff"/><stop offset="0.5000" stop-color="#fee4ff"/><stop offset="0.5625" stop-color="#ffdbf5"/><stop offset="0.6250" stop-color="#ffd2eb"/><stop offset="0.6875" stop-color="#ffc9e2"/><stop offset="0.7500" stop-color="#ffc1d9"/><stop offset="0.8125" stop-color="#ffbad1"/><stop offset="0.8750" stop-color="#ffb2c9"/><stop offset="0.9375" stop-color="#ffacc1"/><stop offset="1.0000" stop-color="#ffa5ba"/></linearGradient>
<linearGradient id="c35"><stop offset="0.0000" stop-color="#ace4ff"/><stop offset="0.0625" stop-color="#b6e4ff"/><stop offset="0.1250" stop-color="#c0e4ff"/><stop offset="0.1875" stop-color="#cae3ff"/><stop offset="0.2500" stop-color="#d4e3ff"/><stop offset="0.3125" stop-color="#dee3ff"/><stop offset="0.3750" stop-color="#e8e3ff"/><stop offset="0.4375" stop-color="#f3e2ff"/><stop offset="0.5000" stop-color="#fee2ff"/><stop offset="0.5625" stop-color="#ffd9f5"/><stop offset="0.6250" stop-color="#ffd0eb"/><stop offset="0.6875" stop-color="#ffc8e2"/><stop offset="0.7500" stop-color="#ffc0d9"/><stop offset="0.8125" stop-color="#ffb8d1"/><stop offset="0.8750" stop-color="#ffb1c9"/><stop offset="0.9375" stop-color="#ffaac2"/><stop offset="1.0000" stop-color="#ffa4bb"/></linearGradient>
<linearGradient id="c36"><stop offset="0.0000" stop-color="#ade2ff"/><stop offset="0.0625" stop-color="#b6e2ff"/><stop offset="0.1250" stop-color="#c0e1ff"/><stop offset="0.1875" stop-color="#cae1ff"/><stop offset="0.2500" stop-color="#d4e1ff"/><stop offset="0.3125" stop-color="#dee1ff"/><stop offset="0.3750" stop-color="#e8e0ff"/><stop offset="0.4375" stop-color="#f3e0ff"/><stop offset="0.5000" stop-color="#fee0ff"/><stop offset="0.5625" stop-color="#ffd7f6"/><stop offset="0.6250" stop-color="#ffceec"/><stop offset="0.6875" stop-color="#ffc6e2"/><stop offset="0.7500" stop-color="#ffbed9"/><stop offset="0.8125" stop-color="#ffb6d1"/><stop offset="0.8750" stop-color="#ffafc9"/><stop offset="0.9375" stop-color="#ffa8c2"/><stop offset="1.0000" stop-color="#ffa2bb"/></linearGradient>
<linearGradient id="c37"><stop offset="0.0000" stop-color="#ade0ff"/><stop offset="0.0625" stop-color="#b6e0ff"/><stop offset="0.1250" stop-color="#c0dfff"/><stop offset="0.1875" stop-color="#cadfff"/><stop offset="0.2500" stop-color="#d4dfff"/><stop offset="0.3125" stop-color="#dedeff"/><stop offset="0.3750" stop-color="#e8deff"/><stop offset="0.4375" stop-color="#f3deff"/><stop offset="0.5000" stop-color="#feddff"/><stop offset="0.5625" stop-color="#ffd5f6"/><stop offset="0.6250" stop-color="#ffccec"/><stop offset="0.6875" stop-color="#ffc4e2"/><stop offset="0.7500" stop-color="#ffbcda"/><stop offset="0.8125" stop-color="#ffb4d1"/><stop offset="0.8750" stop-color="#ffadca"/><stop offset="0.9375" stop-color="#ffa7c2"/><stop offset="1.0000" stop-color="#ffa1bb"/></linearGradient>
<linearGradient id="c38"><stop offset="0.0000" stop-color="#addeff"/><stop offset="0.0625" stop-color="#b6ddff"/><stop offset="0.1250" stop-color="#c0ddff"/><stop offset="0.1875" stop-color="#caddff"/><stop offset="0.2500" stop-color="#d4dcff"/><stop offset="0.3125" stop-color="#dedcff"/><stop offset="0.3750" stop-color="#e8dcff"/><stop offset="0.4375" stop-color="#f3dbff"/><stop offset="0.5000" stop-color="#fddbff"/><stop offset="0.5625" stop-color="#ffd3f6"/><stop offset="0.6250" stop-color="#ffcaec"/><stop offset="0.6875" stop-color="#ffc2e3"/><stop offset="0.7500" stop-color="#ffbada"/><stop offset="0.8125" stop-color="#ffb3d2"/><stop offset="0.8750" stop-color="#ffacca"/><stop offset="0.9375" stop-color="#ffa5c3"/><stop offset="1.0000" stop-color="#ff9fbc"/></linearGradient>
<linearGradient id="c39"><stop offset="0.0000" stop-color="#addcff"/><stop offset="0.0625" stop-color="#b6dbff"/><stop offset="0.1250" stop-color="#c0dbff"/><stop offset="0.1875" stop-color="#cadbff"/><stop offset="0.2500" stop-color="#d4daff"/><stop offset="0.3125" stop-color="#dedaff"/><stop offset="0.3750" stop-color="#e8daff"/><stop offset="0.4375" stop-color="#f3d9ff"/><stop offset="0.5000" stop-color="#fdd9ff"/><stop offset="0.5625" stop-color="#ffd1f6"/><stop offset="0.6250" stop-color="#ffc8ec"/><stop offset="0.6875" stop-color="#ffc0e3"/><stop offset="0.7500" stop-color="#ffb8da"/><stop offset="0.8125" stop-color="#ffb1d2"/><stop offset="0.8750" stop-color="#ffaaca"/><stop offset="0.9375" stop-color="#ffa4c3"/><stop offset="1.0000" stop-color="#ff9dbc"/></linearGradient>
<linearGradient id="c40"><stop offset="0.0000" stop-color="#add9ff"/><stop offset="0.0625" stop-color="#b6d9ff"/><stop offset="0.1250" stop-color="#c0d9ff"/><stop offset="0.1875" stop-color="#cad8ff"/><stop offset="0.2500" stop-color="#d4d8ff"/><stop offset="0.3125" stop-color="#ded8ff"/><stop offset="0.3750" stop-color="#e8d7ff"/><stop offset="0.4375" stop-color="#f3d7ff"/><stop offset="0.5000" stop-color="#fdd7ff"/><stop offset="0.5625" stop-color="#ffcff6"/><stop offset="0.6250" stop-color="#ffc6ec"/><stop offset="0.6875" stop-color="#ffbee3"/><stop offset="0.7500" stop-color="#ffb6da"/><stop offset="0.8125" stop-color="#ffafd2"/><stop offset="0.8750" stop-color="#ffa8cb"/><stop offset="0.9375" stop-color="#ffa2c3"/><stop offset="1.0000" stop-color="#ff9cbc"/></linearGradient>
<linearGradient id="c41"><stop offset="0.0000" stop-color="#add7ff"/><stop offset="0.0625" stop-color="#b7d7ff"/><stop offset="0.1250" stop-color="#c0d7ff"/><stop offset="0.1875" stop-color="#cad6ff"/><stop offset="0.2500" stop-color="#d4d6ff"/><stop offset="0.3125" stop-color="#ded5ff"/><stop offset="0.3750" stop-color="#e8d5ff"/><stop offset="0.4375" stop-color="#f2d5ff"/><stop offset="0.5000" stop-color="#fdd4ff"/><stop offset="0.5625" stop-color="#ffcdf7"/><stop offset="0.6250" stop-color="#ffc4ed"/><stop offset="0.6875" stop-color="#ffbce3"/><stop offset="0.7500" stop-color="#ffb5db"/><stop offset="0.8125" stop-color="#ffaed3"/><stop offset="0.8750" stop-color="#ffa7cb"/><stop offset="0.9375" stop-color="#ffa0c3"/><stop offset="1.0000" stop-color="#ff9abd"/></linearGradient>
<linearGradient id="c42"><stop offset="0.0000" stop-color="#add5ff"/><stop offset="0.0625" stop-color="#b7d5ff"/><stop offset="0.1250" stop-color="#c0d4ff"/><stop offset="0.1875" stop-color="#cad4ff"/><stop offset="0.2500" stop-color="#d4d4ff"/><stop offset="0.3125" stop-color="#ded3ff"/><stop offset="0.3750" stop-color="#e8d3ff"/><stop offset="0.4375" stop-color="#f2d3ff"/><stop offset="0.5000" stop-color="#fdd2ff"/><stop offset="0.5625" stop-color="#ffcbf7"/><stop offset="0.6250" stop-color="#ffc2ed"/><stop offset="0.6875" stop-color="#ffbae4"/><stop offset="0.7500" stop-color="#ffb3db"/><stop offset="0.8125" stop-color="#ffacd3"/><stop offset="0.8750" stop-color="#ffa5cb"/><stop offset="0.9375" stop-color="#ff9fc4"/><stop offset="1.0000" stop-color="#ff99bd"/></linearGradient>
<linearGradient id="c43"><stop offset="0.0000" stop-color="#add3ff"/><stop offset="0.0625" stop-color="#b7d3ff"/><stop offset="0.1250" stop-color="#c0d2ff"/><stop offset="0.1875" stop-color="#cad2ff"/><stop offset="0.2500" stop-color="#d4d2ff"/><stop offset="0.3125" stop-color="#ded1ff"/><stop offset="0.3750" stop-color="#e8d1ff"/><stop offset="0.4375" stop-color="#f2d0ff"/><stop offset="0.5000" stop-color="#fdd0ff"/><stop offset="0.5625" stop-color="#ffc9f7"/><stop offset="0.6250" stop-color="#ffc1ed"/><stop offset="0.6875" stop-color="#ffb9e4"/><stop offset="0.7500" stop-color="#ffb1db"/><stop offset="0.8125" stop-color="#ffaad3"/><stop offset="0.8750" stop-color="#ffa4cb"/><stop offset="0.9375" stop-color="#ff9dc4"/><stop offset="1.0000" stop-color="#ff97bd"/></linearGradient>
<linearGradient id="c44"><stop offset="0.0000" stop-color="#aed1ff"/><stop offset="0.0625" stop-color="#b7d1ff"/><stop offset="0.1250" stop-color="#c0d0ff"/><stop offset="0.1875" stop-color="#cad0ff"/><stop offset="0.2500" stop-color="#d4cfff"/><stop offset="0.3125" stop-color="#decfff"/><stop offset="0.3750" stop-color="#e8cfff"/><stop offset="0.4375" stop-color="#f2ceff"/><stop offset="0.5000" stop-color="#fcceff"/><stop offset="0.5625" stop-color="#ffc7f7"/><stop offset="0.6250" stop-color="#ffbfed"/><stop offset="0.6875" stop-color="#ffb7e4"/><stop offset="0.7500" stop-color="#ffafdc"/><stop offset="0.8125" stop-color="#ffa9d3"/><stop offset="0.8750" stop-color="#ffa2cc"/><stop offset="0.9375" stop-color="#ff9cc4"/><stop offset="1.0000" stop-color="#ff96bd"/></linearGradient>
<linearGradient id="c45"><stop offset="0.0000" stop-color="#aecfff"/><stop offset="0.0625" stop-color="#b7cfff"/><stop offset="0.1250" stop-color="#c0ceff"/><stop offset="0.1875" stop-color="#caceff"/><stop offset="0.2500" stop-color="#d4cdff"/><stop offset="0.3125" stop-color="#decdff"/><stop offset="0.3750" stop-color="#e8ccff"/><stop offset="0.4375" stop-color="#f2ccff"/><stop offset="0.5000" stop-color="#fcccff"/><stop offset="0.5625" stop-color="#ffc5f7"/><stop offset="0.6250" stop-color="#ffbdee"/><stop offset="0.6875" stop-color="#ffb5e4"/><stop offset="0.7500" stop-color="#ffaedc"/><stop offset="0.8125" stop-color="#ffa7d4"/><stop offset="0.8750" stop-color="#ffa0cc"/><stop offset="0.9375" stop-color="#ff9ac5"/><stop offset="1.0000" stop-color="#ff94be"/></linearGradient>
<linearGradient id="c46"><stop offset="0.0000" stop-color="#aecdff"/><stop offset="0.0625" stop-color="#b7cdff"/><stop offset="0.1250" stop-color="#c0ccff"/><stop offset="0.1875" stop-color="#caccff"/><stop offset="0.2500" stop-color="#d4cbff"/><stop offset="0.3125" stop-color="#decbff"/><stop offset="0.3750" stop-color="#e8caff"/><stop offset="0.4375" stop-color="#f2caff"/><stop offset="0.5000" stop-color="#fcc9ff"/><stop offset="0.5625" stop-color="#ffc3f8"/><stop offset="0.6250" stop-color="#ffbbee"/><stop offset="0.6875" stop-color="#ffb3e5"/><stop offset="0.7500" stop-color="#ffacdc"/><stop offset="0.8125" stop-color="#ffa5d4"/><stop offset="0.8750" stop-color="#ff9fcc"/><stop offset="0.9375" stop-color="#ff99c5"/><stop offset="1.0000" stop-color="#ff93be"/></linearGradient>
<clipPath id="ccie"><rect x="384.7" y="663.6" width="245.0" height="187.2"/></clipPath>
</defs>
<g clip-path="url(#ccie)">
<rect x="384.7" y="663.6" width="245.0" height="4.6" fill="url(#c0)"/>
<rect x="384.7" y="667.6" width="245.0" height="4.6" fill="url(#c1)"/>
<rect x="384.7" y="671.6" width="245.0" height="4.6" fill="url(#c2)"/>
<rect x="384.7" y="675.6" width="245.0" height="4.6" fill="url(#c3)"/>
<rect x="384.7" y="679.6" width="245.0" height="4.6" fill="url(#c4)"/>
<rect x="384.7" y="683.6" width="245.0" height="4.6" fill="url(#c5)"/>
<rect x="384.7" y="687.6" width="245.0" height="4.6" fill="url(#c6)"/>
<rect x="384.7" y="691.6" width="245.0" height="4.6" fill="url(#c7)"/>
<rect x="384.7" y="695.6" width="245.0" height="4.6" fill="url(#c8)"/>
<rect x="384.7" y="699.6" width="245.0" height="4.6" fill="url(#c9)"/>
<rect x="384.7" y="703.6" width="245.0" height="4.6" fill="url(#c10)"/>
<rect x="384.7" y="707.6" width="245.0" height="4.6" fill="url(#c11)"/>
<rect x="384.7" y="711.6" width="245.0" height="4.6" fill="url(#c12)"/>
<rect x="384.7" y="715.6" width="245.0" height="4.6" fill="url(#c13)"/>
<rect x="384.7" y="719.6" width="245.0" height="4.6" fill="url(#c14)"/>
<rect x="384.7" y="723.6" width="245.0" height="4.6" fill="url(#c15)"/>
<rect x="384.7" y="727.6" width="245.0" height="4.6" fill="url(#c16)"/>
<rect x="384.7" y="731.6" width="245.0" height="4.6" fill="url(#c17)"/>
<rect x="384.7" y="735.6" width="245.0" height="4.6" fill="url(#c18)"/>
<rect x="384.7" y="739.6" width="245.0" height="4.6" fill="url(#c19)"/>
<rect x="384.7" y="743.6" width="245.0" height="4.6" fill="url(#c20)"/>
<rect x="384.7" y="747.6" width="245.0" height="4.6" fill="url(#c21)"/>
<rect x="384.7" y="751.6" width="245.0" height="4.6" fill="url(#c22)"/>
<rect x="384.7" y="755.6" width="245.0" height="4.6" fill="url(#c23)"/>
<rect x="384.7" y="759.6" width="245.0" height="4.6" fill="url(#c24)"/>
<rect x="384.7" y="763.6" width="245.0" height="4.6" fill="url(#c25)"/>
<rect x="384.7" y="767.6" width="245.0" height="4.6" fill="url(#c26)"/>
<rect x="384.7" y="771.6" width="245.0" height="4.6" fill="url(#c27)"/>
<rect x="384.7" y="775.6" width="245.0" height="4.6" fill="url(#c28)"/>
<rect x="384.7" y="779.6" width="245.0" height="4.6" fill="url(#c29)"/>
<rect x="384.7" y="783.6" width="245.0" height="4.6" fill="url(#c30)"/>
<rect x="384.7" y="787.6" width="245.0" height="4.6" fill="url(#c31)"/>
<rect x="384.7" y="791.6" width="245.0" height="4.6" fill="url(#c32)"/>
<rect x="384.7" y="795.6" width="245.0" height="4.6" fill="url(#c33)"/>
<rect x="384.7" y="799.6" width="245.0" height="4.6" fill="url(#c34)"/>
<rect x="384.7" y="803.6" width="245.0" height="4.6" fill="url(#c35)"/>
<rect x="384.7" y="807.6" width="245.0" height="4.6" fill="url(#c36)"/>
<rect x="384.7" y="811.6" width="245.0" height="4.6" fill="url(#c37)"/>
<rect x="384.7" y="815.6" width="245.0" height="4.6" fill="url(#c38)"/>
<rect x="384.7" y="819.6" width="245.0" height="4.6" fill="url(#c39)"/>
<rect x="384.7" y="823.6" width="245.0" height="4.6" fill="url(#c40)"/>
<rect x="384.7" y="827.6" width="245.0" height="4.6" fill="url(#c41)"/>
<rect x="384.7" y="831.6" width="245.0" height="4.6" fill="url(#c42)"/>
<rect x="384.7" y="835.6" width="245.0" height="4.6" fill="url(#c43)"/>
<rect x="384.7" y="839.6" width="245.0" height="4.6" fill="url(#c44)"/>
<rect x="384.7" y="843.6" width="245.0" height="4.6" fill="url(#c45)"/>
<rect x="384.7" y="847.6" width="245.0" height="4.6" fill="url(#c46)"/>
<polyline points="741.1,629.2 724.3,638.5 708.2,647.7 692.8,656.6 678.1,665.3 664.0,673.8 650.5,682.1 637.6,690.1 625.2,698.0 613.4,705.7 602.0,713.2 591.0,720.5 580.5,727.6 570.4,734.5 560.7,741.3 551.3,747.9 542.3,754.3 533.7,760.5 525.3,766.5 517.3,772.5 509.5,778.2 502.1,783.8 494.8,789.3 487.9,794.6 481.1,799.7 474.6,804.8 468.3,809.7 462.2,814.5 456.3,819.2 450.6,823.7 445.1,828.1 439.8,832.5 434.6,836.7 429.6,840.8 424.7,844.8 420.0,848.7 415.4,852.5 410.9,856.3 406.6,859.9 402.4,863.5 398.3,866.9 394.3,870.3 390.5,873.6 386.7,876.9 383.1,880.0 379.5,883.1 376.1,886.1 372.7,889.1 369.4,891.9 366.2,894.8 363.1,897.5 360.1,900.2 357.1,902.9 354.2,905.4 351.4,908.0 348.7,910.4 346.0,912.9 343.4,915.2 340.8,917.5 338.3,919.8 335.9,922.0 333.5,924.2 331.2,926.4 328.9,928.5 326.7,930.5 324.5,932.5 322.4,934.5 320.3,936.4 318.3,938.3 316.3,940.2 314.3,942.0 312.4,943.8 310.5,945.6 308.7,947.3 306.9,949.0 305.1,950.6" fill="none" stroke="#000" stroke-width="3.1"/>
</g>
<rect x="384.7" y="663.6" width="245.0" height="187.2" fill="none" stroke="#8c8c8c" stroke-width="1.4"/>
<rect x="498.1" y="748.9" width="14.9" height="15.1" fill="none" stroke="#000" stroke-width="1.8"/>
<circle cx="504.5" cy="726.8" r="4.9" fill="#1c1c1c" stroke="#1a1a1a" stroke-width="1"/>
<circle cx="511.8" cy="735.6" r="4.9" fill="#363636" stroke="#1a1a1a" stroke-width="1"/>
<circle cx="512.0" cy="740.0" r="4.9" fill="#555555" stroke="#1a1a1a" stroke-width="1"/>
<circle cx="500.4" cy="744.6" r="4.9" fill="#4a4a4a" stroke="#1a1a1a" stroke-width="1"/>
<circle cx="508.5" cy="742.0" r="4.9" fill="#828282" stroke="#1a1a1a" stroke-width="1"/>
<circle cx="505.6" cy="740.7" r="4.9" fill="#b4b4b4" stroke="#1a1a1a" stroke-width="1"/>
<circle cx="506.3" cy="745.5" r="4.9" fill="#c0c0c0" stroke="#1a1a1a" stroke-width="1"/>
<circle cx="507.0" cy="749.0" r="4.9" fill="#cdcdcd" stroke="#1a1a1a" stroke-width="1"/>
<circle cx="504.2" cy="746.6" r="4.9" fill="#e6e6e6" stroke="#1a1a1a" stroke-width="1"/>
<circle cx="500.5" cy="750.3" r="4.9" fill="#ffffff" stroke="#1a1a1a" stroke-width="1"/>
<line x1="378.4" y1="828.1" x2="383.4" y2="828.1" stroke="#d8d8d8" stroke-width="1.2"/>
<text transform="translate(347.97,833.90) scale(1.0000,1)" font-size="15.70" fill="#dadada">0,31</text>
<line x1="378.4" y1="791.2" x2="383.4" y2="791.2" stroke="#d8d8d8" stroke-width="1.2"/>
<text transform="translate(347.97,797.00) scale(1.0000,1)" font-size="15.70" fill="#dadada">0,32</text>
<line x1="378.4" y1="754.3" x2="383.4" y2="754.3" stroke="#d8d8d8" stroke-width="1.2"/>
<text transform="translate(347.90,760.10) scale(1.0000,1)" font-size="15.70" fill="#dadada">0,33</text>
<line x1="378.4" y1="717.0" x2="383.4" y2="717.0" stroke="#d8d8d8" stroke-width="1.2"/>
<text transform="translate(347.66,722.80) scale(1.0000,1)" font-size="15.70" fill="#dadada">0,34</text>
<line x1="378.4" y1="678.5" x2="383.4" y2="678.5" stroke="#d8d8d8" stroke-width="1.2"/>
<text transform="translate(347.90,684.30) scale(1.0000,1)" font-size="15.70" fill="#dadada">0,35</text>
<line x1="394.3" y1="850.8" x2="394.3" y2="857.5" stroke="#d8d8d8" stroke-width="1.3"/>
<text transform="translate(379.11,874.80) scale(1.0000,1)" font-size="15.70" fill="#dadada">0,29</text>
<line x1="443.4" y1="850.8" x2="443.4" y2="857.5" stroke="#d8d8d8" stroke-width="1.3"/>
<text transform="translate(432.48,874.80) scale(1.0000,1)" font-size="15.70" fill="#dadada">0,3</text>
<line x1="492.4" y1="850.8" x2="492.4" y2="857.5" stroke="#d8d8d8" stroke-width="1.3"/>
<text transform="translate(477.21,874.80) scale(1.0000,1)" font-size="15.70" fill="#dadada">0,31</text>
<line x1="541.5" y1="850.8" x2="541.5" y2="857.5" stroke="#d8d8d8" stroke-width="1.3"/>
<text transform="translate(526.26,874.80) scale(1.0000,1)" font-size="15.70" fill="#dadada">0,32</text>
<line x1="590.5" y1="850.8" x2="590.5" y2="857.5" stroke="#d8d8d8" stroke-width="1.3"/>
<text transform="translate(575.27,874.80) scale(1.0000,1)" font-size="15.70" fill="#dadada">0,33</text>
</svg>
<table class="data"><colgroup><col style="width:14px"><col style="width:135px"><col style="width:77.5px"><col style="width:67.85px"><col style="width:67.85px"><col style="width:67.85px"><col style="width:67.85px"><col style="width:67.85px"><col style="width:67.85px"><col style="width:67.85px"><col style="width:67.85px"><col style="width:67.85px"><col style="width:66.85px"></colgroup>
<thead><tr class="hd"><th class="rh"></th><th></th><th><span style="left:2.46px;top:9.67px;transform:scaleX(1.05)">0</span></th><th><span style="left:1.83px;top:9.67px;transform:scaleX(1.05)">10</span></th><th><span style="left:2.22px;top:9.67px;transform:scaleX(1.05)">20</span></th><th><span style="left:2.46px;top:9.67px;transform:scaleX(1.05)">30</span></th><th><span style="left:2.69px;top:9.67px;transform:scaleX(1.05)">40</span></th><th><span style="left:2.38px;top:9.67px;transform:scaleX(1.05)">50</span></th><th><span style="left:2.22px;top:9.67px;transform:scaleX(1.05)">60</span></th><th><span style="left:2.22px;top:9.67px;transform:scaleX(1.05)">70</span></th><th><span style="left:2.38px;top:9.67px;transform:scaleX(1.05)">80</span></th><th><span style="left:2.30px;top:9.67px;transform:scaleX(1.05)">90</span></th><th><span style="left:1.83px;top:9.67px;transform:scaleX(1.05)">100</span></th></tr></thead><tbody>
<tr class="d" style="height:28px"><td class="rh"></td><td><span style="left:3.35px;top:5.65px;transform:scaleX(0.8498)">x: CIE31</span></td><td><span style="left:2.42px;top:5.65px;transform:scaleX(0.925)">0,26</span></td><td><span style="left:2.42px;top:5.65px;transform:scaleX(0.925)">0,31</span></td><td><span style="left:2.42px;top:5.65px;transform:scaleX(0.925)">0,31</span></td><td><span style="left:2.42px;top:5.65px;transform:scaleX(0.925)">0,31</span></td><td><span style="left:2.42px;top:5.65px;transform:scaleX(0.925)">0,31</span></td><td><span style="left:2.42px;top:5.65px;transform:scaleX(0.925)">0,31</span></td><td><span style="left:2.42px;top:5.65px;transform:scaleX(0.925)">0,31</span></td><td><span style="left:2.42px;top:5.65px;transform:scaleX(0.925)">0,31</span></td><td><span style="left:2.42px;top:5.65px;transform:scaleX(0.925)">0,31</span></td><td><span style="left:2.42px;top:5.65px;transform:scaleX(0.925)">0,31</span></td><td><span style="left:2.42px;top:5.65px;transform:scaleX(0.925)">0,31</span></td></tr>
<tr class="l" style="height:28px"><td class="rh"></td><td><span style="left:3.50px;top:5.65px;transform:scaleX(0.8476)">y: CIE31</span></td><td><span style="left:2.42px;top:5.65px;transform:scaleX(0.925)">0,29</span></td><td><span style="left:2.42px;top:5.65px;transform:scaleX(0.925)">0,34</span></td><td><span style="left:2.42px;top:5.65px;transform:scaleX(0.925)">0,33</span></td><td><span style="left:2.42px;top:5.65px;transform:scaleX(0.925)">0,33</span></td><td><span style="left:2.42px;top:5.65px;transform:scaleX(0.925)">0,33</span></td><td><span style="left:2.42px;top:5.65px;transform:scaleX(0.925)">0,33</span></td><td><span style="left:2.42px;top:5.65px;transform:scaleX(0.925)">0,33</span></td><td><span style="left:2.42px;top:5.65px;transform:scaleX(0.925)">0,33</span></td><td><span style="left:2.42px;top:5.65px;transform:scaleX(0.925)">0,33</span></td><td><span style="left:2.42px;top:5.65px;transform:scaleX(0.925)">0,33</span></td><td><span style="left:2.42px;top:5.65px;transform:scaleX(0.925)">0,33</span></td></tr>
<tr class="d" style="height:28px"><td class="rh"></td><td><span style="left:3.19px;top:5.65px;transform:scaleX(0.8581)">Y</span></td><td><span style="left:2.42px;top:5.65px;transform:scaleX(0.925)">0,81</span></td><td><span style="left:2.42px;top:5.65px;transform:scaleX(0.925)">3,02</span></td><td><span style="left:2.17px;top:5.65px;transform:scaleX(0.925)">7,78</span></td><td><span style="left:1.76px;top:5.65px;transform:scaleX(0.925)">16,28</span></td><td><span style="left:2.17px;top:5.65px;transform:scaleX(0.925)">29,43</span></td><td><span style="left:2.67px;top:5.65px;transform:scaleX(0.925)">47,18</span></td><td><span style="left:2.17px;top:5.65px;transform:scaleX(0.925)">69,87</span></td><td><span style="left:2.25px;top:5.65px;transform:scaleX(0.925)">98,19</span></td><td><span style="left:1.76px;top:5.65px;transform:scaleX(0.925)">133,04</span></td><td><span style="left:1.76px;top:5.65px;transform:scaleX(0.925)">174,27</span></td><td><span style="left:2.17px;top:5.65px;transform:scaleX(0.925)">221,14</span></td></tr>
<tr class="l" style="height:28px"><td class="rh"></td><td><span style="left:3.17px;top:5.65px;transform:scaleX(0.9344)">Target Y</span></td><td><span style="left:2.42px;top:5.65px;transform:scaleX(0.925)">0,00</span></td><td><span style="left:2.17px;top:5.65px;transform:scaleX(0.925)">2,28</span></td><td><span style="left:2.17px;top:5.65px;transform:scaleX(0.925)">7,32</span></td><td><span style="left:1.76px;top:5.65px;transform:scaleX(0.925)">15,98</span></td><td><span style="left:2.17px;top:5.65px;transform:scaleX(0.925)">29,38</span></td><td><span style="left:2.67px;top:5.65px;transform:scaleX(0.925)">47,73</span></td><td><span style="left:2.17px;top:5.65px;transform:scaleX(0.925)">70,44</span></td><td><span style="left:2.25px;top:5.65px;transform:scaleX(0.925)">98,45</span></td><td><span style="left:1.76px;top:5.65px;transform:scaleX(0.925)">133,53</span></td><td><span style="left:1.76px;top:5.65px;transform:scaleX(0.925)">174,98</span></td><td><span style="left:2.17px;top:5.65px;transform:scaleX(0.925)">221,14</span></td></tr>
<tr class="d" style="height:28px"><td class="rh"></td><td><span style="left:2.65px;top:5.65px;transform:scaleX(0.9453)">Gamma Log/Log</span></td><td><span style="left:1.76px;top:5.65px;transform:scaleX(0.925)">1,37</span></td><td><span style="left:1.76px;top:5.65px;transform:scaleX(0.925)">1,88</span></td><td><span style="left:2.17px;top:5.65px;transform:scaleX(0.925)">2,08</span></td><td><span style="left:2.17px;top:5.65px;transform:scaleX(0.925)">2,15</span></td><td><span style="left:2.17px;top:5.65px;transform:scaleX(0.925)">2,20</span></td><td><span style="left:2.17px;top:5.65px;transform:scaleX(0.925)">2,24</span></td><td><span style="left:2.17px;top:5.65px;transform:scaleX(0.925)">2,26</span></td><td><span style="left:2.17px;top:5.65px;transform:scaleX(0.925)">2,26</span></td><td><span style="left:2.17px;top:5.65px;transform:scaleX(0.925)">2,28</span></td><td><span style="left:2.17px;top:5.65px;transform:scaleX(0.925)">2,31</span></td><td><span style="left:2.17px;top:5.65px;transform:scaleX(0.925)">2,27</span></td></tr>
<tr class="l" style="height:29px"><td class="rh"></td><td><span style="left:2.76px;top:5.65px;transform:scaleX(0.8246)">CCT</span></td><td><span style="left:1.76px;top:5.65px;transform:scaleX(0.925)">11668,96</span></td><td><span style="left:2.17px;top:5.65px;transform:scaleX(0.925)">6474,76</span></td><td><span style="left:2.17px;top:5.65px;transform:scaleX(0.925)">6416,64</span></td><td><span style="left:2.17px;top:5.65px;transform:scaleX(0.925)">6528,31</span></td><td><span style="left:2.17px;top:5.65px;transform:scaleX(0.925)">6417,16</span></td><td><span style="left:2.17px;top:5.65px;transform:scaleX(0.925)">6504,09</span></td><td><span style="left:2.17px;top:5.65px;transform:scaleX(0.925)">6498,03</span></td><td><span style="left:2.17px;top:5.65px;transform:scaleX(0.925)">6523,18</span></td><td><span style="left:2.17px;top:5.65px;transform:scaleX(0.925)">6475,45</span></td><td><span style="left:2.17px;top:5.65px;transform:scaleX(0.925)">6522,39</span></td><td><span style="left:2.17px;top:5.65px;transform:scaleX(0.925)">6554,10</span></td></tr>
<tr class="d" style="height:28px"><td class="rh"></td><td><span style="left:3.10px;top:5.65px;transform:scaleX(0.8909)">ΔE 2000</span></td><td><span style="left:2.42px;top:5.65px;transform:scaleX(0.925)">3,08</span></td><td><span style="left:2.17px;top:5.65px;transform:scaleX(0.925)">2,25</span></td><td><span style="left:1.76px;top:5.65px;transform:scaleX(0.925)">1,39</span></td><td><span style="left:1.76px;top:5.65px;transform:scaleX(0.925)">1,38</span></td><td><span style="left:1.76px;top:5.65px;transform:scaleX(0.925)">1,57</span></td><td><span style="left:1.76px;top:5.65px;transform:scaleX(0.925)">1,33</span></td><td><span style="left:1.76px;top:5.65px;transform:scaleX(0.925)">1,15</span></td><td><span style="left:2.17px;top:5.65px;transform:scaleX(0.925)">2,14</span></td><td><span style="left:2.17px;top:5.65px;transform:scaleX(0.925)">2,63</span></td><td><span style="left:2.17px;top:5.65px;transform:scaleX(0.925)">2,20</span></td><td><span style="left:1.76px;top:5.65px;transform:scaleX(0.925)">1,97</span></td></tr>
</tbody></table>
</body>
</html>
